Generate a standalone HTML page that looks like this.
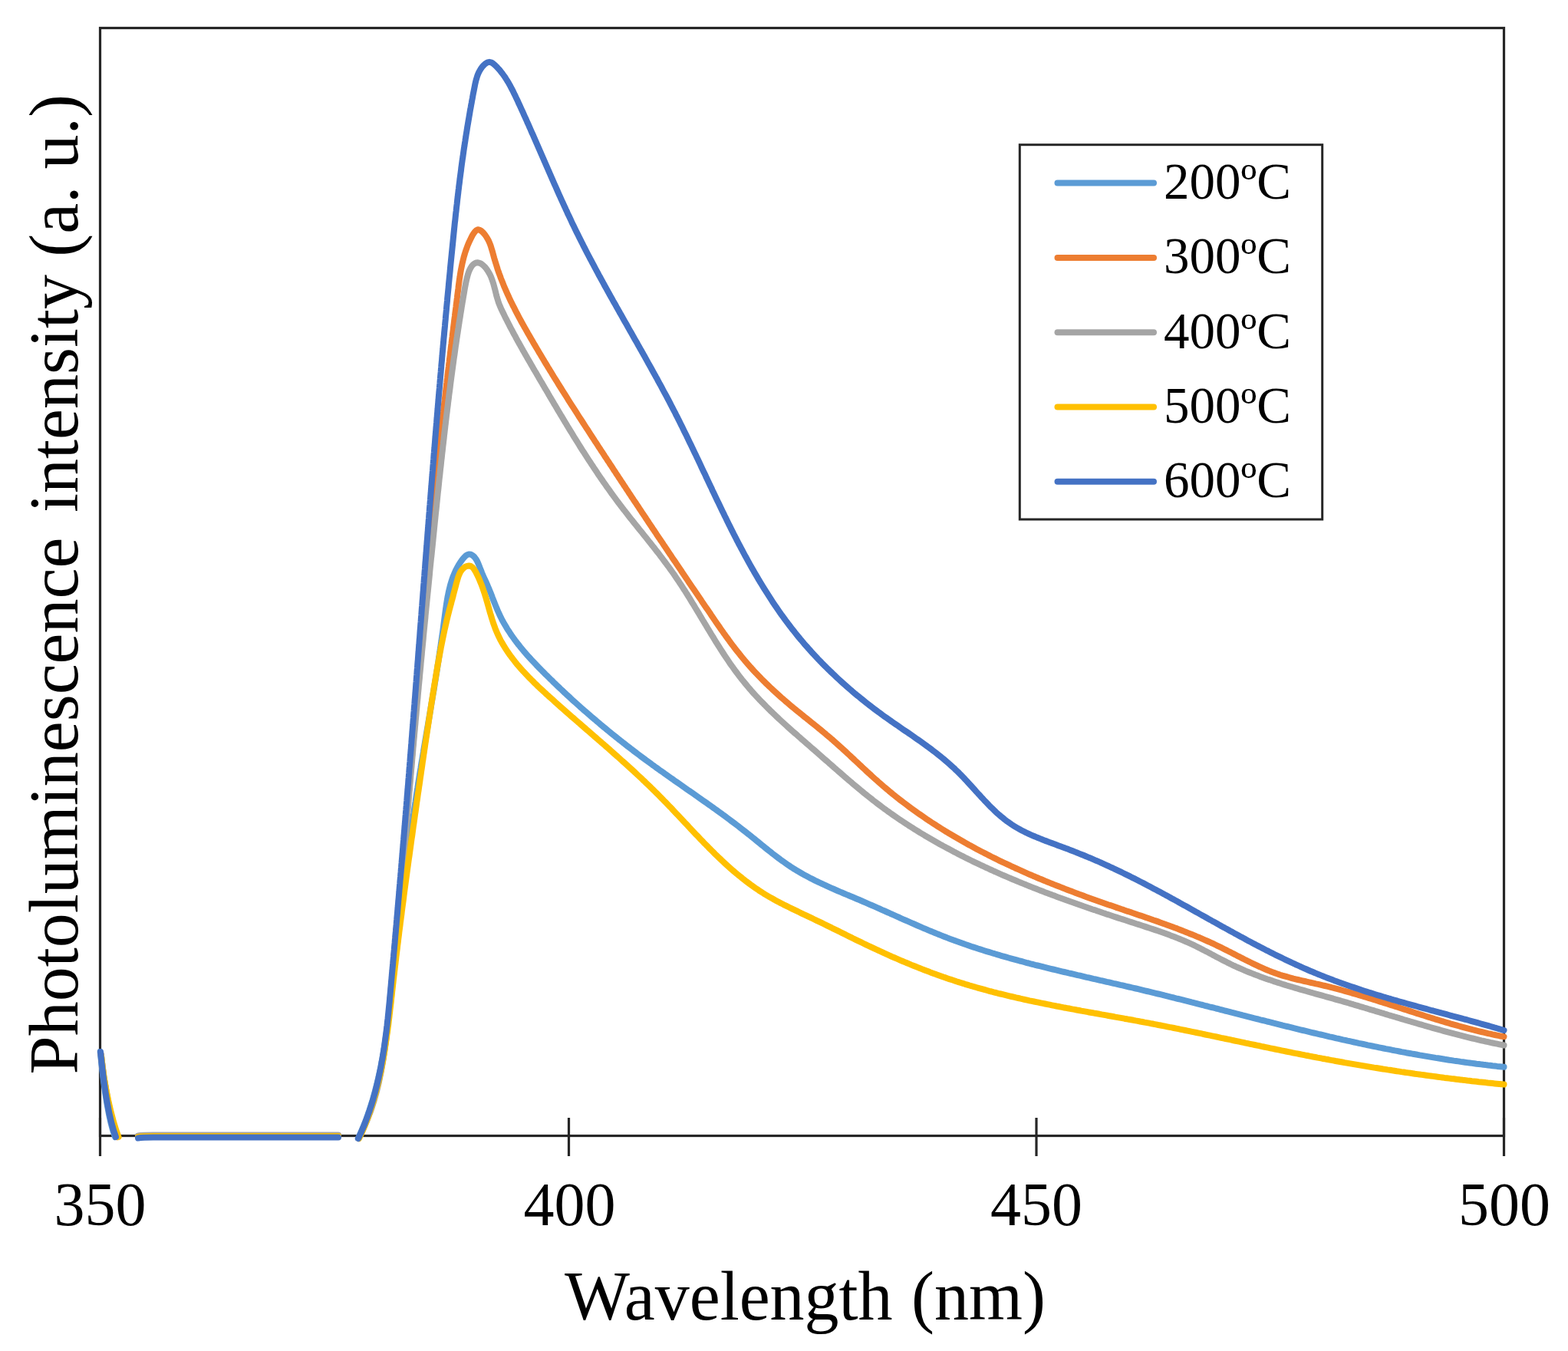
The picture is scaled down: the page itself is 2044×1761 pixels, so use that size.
<!DOCTYPE html>
<html><head><meta charset="utf-8"><title>Photoluminescence spectra</title>
<style>
html,body{margin:0;padding:0;background:#fff;}
body{width:2044px;height:1761px;overflow:hidden;}
svg{display:block;}
text{font-family:"Liberation Serif","Times New Roman",serif;fill:#000;}
</style></head><body>
<svg width="2044" height="1761" viewBox="0 0 2044 1761" xmlns="http://www.w3.org/2000/svg">
<rect width="2044" height="1761" fill="#fff"/>
<g stroke="#262626" stroke-width="3.2" fill="none">
<rect x="130.5" y="36.5" width="1830.0" height="1444.0"/>
<line x1="130.5" y1="1457" x2="130.5" y2="1507"/>
<line x1="741.5" y1="1457" x2="741.5" y2="1507"/>
<line x1="1351" y1="1457" x2="1351" y2="1507"/>
<line x1="1960.5" y1="1457" x2="1960.5" y2="1507"/>
</g>
<g fill="none" stroke-width="8.0" stroke-linejoin="round" stroke-linecap="round">
<path d="M130.7 1371 C134.7 1411 141.0 1458 150.0 1482 M180 1481.5 Q186 1480.5 200 1480.5 L441 1480.5 M466.8 1484.0L468.1 1481.3 469.3 1478.5 470.5 1475.8 471.7 1473.0 472.9 1470.2 474.0 1467.4 475.1 1464.7 476.2 1461.9 477.3 1459.1 478.3 1456.3 479.3 1453.5 480.3 1450.6 481.3 1447.8 482.2 1445.0 483.1 1442.2 484.0 1439.3 484.9 1436.5 485.8 1433.6 486.6 1430.8 487.4 1427.9 488.2 1425.0 489.0 1422.2 489.7 1419.3 490.5 1416.4 491.2 1413.5 491.9 1410.6 492.6 1407.7 493.3 1404.8 493.9 1401.9 494.6 1399.0 495.2 1396.1 495.8 1393.2 496.4 1390.3 497.0 1387.4 497.5 1384.4 498.1 1381.5 498.6 1378.6 499.1 1375.6 499.7 1372.7 500.2 1369.7 500.7 1366.8 501.1 1363.8 501.6 1360.9 502.1 1357.9 502.5 1355.0 502.9 1352.0 503.4 1349.0 503.8 1346.1 504.2 1343.1 504.6 1340.1 505.0 1337.1 505.4 1334.2 505.8 1331.2 506.2 1328.2 506.5 1325.2 506.9 1322.3 507.3 1319.3 507.6 1316.3 508.0 1313.3 508.3 1310.3 508.7 1307.3 509.0 1304.3 509.4 1301.3 509.7 1298.4 510.0 1295.4 510.4 1292.4 510.7 1289.4 511.1 1286.4 511.4 1283.4 511.7 1280.4 512.1 1277.4 512.4 1274.4 512.7 1271.4 513.1 1268.4 513.4 1265.4 513.8 1262.5 514.1 1259.5 514.4 1256.5 514.8 1253.5 515.1 1250.5 515.5 1247.5 515.8 1244.5 516.1 1241.5 516.5 1238.5 516.8 1235.5 517.2 1232.5 517.5 1229.6 517.9 1226.6 518.2 1223.6 518.6 1220.6 518.9 1217.6 519.3 1214.6 519.6 1211.6 520.0 1208.6 520.3 1205.6 520.7 1202.7 521.0 1199.7 521.4 1196.7 521.8 1193.7 522.1 1190.7 522.5 1187.7 522.8 1184.7 523.2 1181.8 523.6 1178.8 523.9 1175.8 524.3 1172.8 524.7 1169.8 525.0 1166.8 525.4 1163.9 525.8 1160.9 526.1 1157.9 526.5 1154.9 526.9 1151.9 527.3 1149.0 527.6 1146.0 528.0 1143.0 528.4 1140.0 528.8 1137.0 529.2 1134.1 529.6 1131.1 530.0 1128.1 530.3 1125.1 530.7 1122.2 531.1 1119.2 531.5 1116.2 531.9 1113.2 532.3 1110.3 532.7 1107.3 533.1 1104.3 533.5 1101.4 533.9 1098.4 534.3 1095.4 534.7 1092.5 535.1 1089.5 535.6 1086.5 536.0 1083.6 536.4 1080.6 536.8 1077.6 537.2 1074.7 537.7 1071.7 538.1 1068.8 538.5 1065.8 538.9 1062.8 539.4 1059.9 539.8 1056.9 540.2 1054.0 540.7 1051.0 541.1 1048.1 541.6 1045.1 542.0 1042.1 542.4 1039.2 542.9 1036.2 543.3 1033.3 543.8 1030.3 544.3 1027.4 544.7 1024.5 545.2 1021.5 545.6 1018.6 546.1 1015.6 546.6 1012.7 547.0 1009.7 547.5 1006.8 548.0 1003.9 548.5 1000.9 548.9 998.0 549.4 995.0 549.9 992.1 550.4 989.2 550.9 986.2 551.4 983.3 551.9 980.4 552.3 977.4 552.8 974.5 553.3 971.6 553.8 968.6 554.3 965.7 554.8 962.8 555.3 959.8 555.8 956.9 556.3 953.9 556.8 951.0 557.3 948.1 557.8 945.1 558.3 942.2 558.8 939.3 559.3 936.3 559.8 933.4 560.3 930.4 560.8 927.5 561.3 924.6 561.7 921.6 562.2 918.7 562.7 915.7 563.2 912.8 563.7 909.8 564.2 906.9 564.7 903.9 565.2 901.0 565.7 898.0 566.2 895.1 566.6 892.1 567.1 889.1 567.6 886.2 568.1 883.2 568.5 880.3 569.0 877.3 569.5 874.3 570.0 871.4 570.4 868.4 570.9 865.4 571.4 862.4 571.8 859.4 572.3 856.5 572.7 853.5 573.2 850.5 573.6 847.5 574.1 844.5 574.5 841.5 574.9 838.5 575.4 835.5 575.8 832.5 576.2 829.5 576.7 826.5 577.1 823.5 577.5 820.5 577.9 817.4 578.3 814.4 578.7 811.4 579.1 808.4 579.5 805.3 579.9 802.3 580.3 799.2 580.7 796.2 581.1 793.2 581.6 790.2 582.0 787.1 582.5 784.1 583.0 781.1 583.5 778.1 584.1 775.2 584.7 772.2 585.4 769.3 586.1 766.3 586.8 763.4 587.6 760.6 588.5 757.7 589.4 754.9 590.4 752.1 591.5 749.4 592.7 746.6 593.9 743.9 595.2 741.3 596.6 738.7 598.1 736.1 599.7 733.5 601.4 731.1 603.2 728.6 605.2 726.3 607.2 724.4 609.3 723.0 611.6 722.4 613.9 722.8 616.1 724.0 618.3 725.9 620.2 728.4 621.9 731.2 623.3 734.2 624.6 737.4 625.8 740.6 627.0 743.6 628.1 746.5 629.3 749.3 630.5 752.0 631.7 754.7 632.9 757.3 634.1 759.8 635.2 762.4 636.3 765.0 637.5 767.7 638.6 770.4 639.7 773.1 640.8 775.9 641.8 778.7 642.9 781.5 644.0 784.3 645.2 787.2 646.3 790.0 647.5 792.8 648.6 795.6 649.9 798.4 651.2 801.2 652.5 803.9 653.8 806.6 655.2 809.3 656.7 811.9 658.2 814.5 659.7 817.1 661.2 819.6 662.8 822.1 664.5 824.6 666.1 827.1 667.8 829.5 669.6 832.0 671.3 834.4 673.1 836.7 674.9 839.1 676.8 841.4 678.6 843.7 680.5 846.0 682.4 848.3 684.4 850.6 686.3 852.8 688.3 855.1 690.3 857.3 692.3 859.5 694.4 861.7 696.4 863.8 698.5 866.0 700.5 868.2 702.6 870.3 704.7 872.4 706.8 874.6 708.9 876.7 711.0 878.8 713.2 880.9 715.3 883.0 717.4 885.1 719.6 887.2 721.7 889.3 723.9 891.4 726.0 893.5 728.2 895.5 730.4 897.6 732.6 899.6 734.7 901.7 736.9 903.7 739.1 905.8 741.3 907.8 743.5 909.8 745.7 911.9 748.0 913.9 750.2 915.9 752.4 917.9 754.6 919.9 756.9 921.9 759.1 923.9 761.4 925.9 763.6 927.8 765.9 929.8 768.2 931.8 770.4 933.7 772.7 935.7 775.0 937.6 777.3 939.6 779.6 941.5 781.9 943.4 784.2 945.4 786.5 947.3 788.8 949.2 791.1 951.1 793.4 953.0 795.7 954.9 798.1 956.8 800.4 958.7 802.7 960.5 805.1 962.4 807.4 964.3 809.8 966.1 812.1 968.0 814.5 969.8 816.8 971.7 819.2 973.5 821.6 975.3 824.0 977.2 826.3 979.0 828.7 980.8 831.1 982.6 833.5 984.4 835.9 986.2 838.3 988.0 840.7 989.8 843.1 991.6 845.5 993.3 848.0 995.1 850.4 996.9 852.8 998.6 855.2 1000.4 857.7 1002.1 860.1 1003.9 862.5 1005.6 865.0 1007.3 867.4 1009.1 869.8 1010.8 872.3 1012.5 874.7 1014.2 877.2 1015.9 879.6 1017.7 882.1 1019.4 884.5 1021.1 887.0 1022.8 889.4 1024.5 891.9 1026.2 894.3 1027.9 896.8 1029.7 899.3 1031.4 901.7 1033.1 904.2 1034.8 906.6 1036.5 909.1 1038.2 911.5 1039.9 914.0 1041.7 916.4 1043.4 918.9 1045.1 921.3 1046.8 923.7 1048.6 926.2 1050.3 928.6 1052.0 931.0 1053.8 933.5 1055.5 935.9 1057.3 938.3 1059.0 940.8 1060.8 943.2 1062.6 945.6 1064.3 948.0 1066.1 950.4 1067.9 952.8 1069.7 955.2 1071.5 957.6 1073.3 960.0 1075.1 962.4 1076.9 964.8 1078.8 967.1 1080.6 969.5 1082.5 971.9 1084.3 974.2 1086.2 976.6 1088.0 978.9 1089.9 981.3 1091.8 983.6 1093.7 985.9 1095.6 988.3 1097.5 990.6 1099.4 992.9 1101.3 995.3 1103.2 997.6 1105.1 1000.0 1107.0 1002.3 1108.8 1004.7 1110.7 1007.0 1112.6 1009.4 1114.4 1011.8 1116.2 1014.1 1118.0 1016.5 1119.8 1018.9 1121.6 1021.4 1123.3 1023.8 1125.0 1026.2 1126.7 1028.7 1128.4 1031.2 1130.1 1033.7 1131.7 1036.2 1133.2 1038.7 1134.8 1041.3 1136.3 1043.8 1137.8 1046.4 1139.3 1049.0 1140.7 1051.6 1142.1 1054.3 1143.5 1056.9 1144.9 1059.5 1146.2 1062.2 1147.6 1064.9 1148.9 1067.6 1150.2 1070.3 1151.4 1073.0 1152.7 1075.7 1153.9 1078.4 1155.2 1081.1 1156.4 1083.8 1157.6 1086.6 1158.8 1089.3 1160.0 1092.1 1161.2 1094.8 1162.4 1097.6 1163.5 1100.4 1164.7 1103.1 1165.9 1105.9 1167.0 1108.7 1168.2 1111.4 1169.3 1114.2 1170.5 1117.0 1171.7 1119.7 1172.8 1122.5 1174.0 1125.3 1175.2 1128.0 1176.4 1130.8 1177.6 1133.5 1178.8 1136.3 1180.0 1139.0 1181.2 1141.8 1182.4 1144.5 1183.6 1147.3 1184.8 1150.0 1186.1 1152.8 1187.3 1155.5 1188.5 1158.3 1189.7 1161.0 1191.0 1163.7 1192.2 1166.5 1193.4 1169.2 1194.6 1172.0 1195.8 1174.7 1197.1 1177.4 1198.3 1180.2 1199.5 1182.9 1200.7 1185.7 1201.9 1188.4 1203.1 1191.2 1204.3 1193.9 1205.5 1196.7 1206.7 1199.4 1207.9 1202.2 1209.1 1204.9 1210.3 1207.7 1211.4 1210.4 1212.6 1213.2 1213.7 1216.0 1214.9 1218.7 1216.0 1221.5 1217.1 1224.3 1218.3 1227.1 1219.4 1229.8 1220.4 1232.6 1221.5 1235.4 1222.6 1238.2 1223.7 1241.0 1224.7 1243.8 1225.7 1246.6 1226.8 1249.4 1227.8 1252.2 1228.8 1255.0 1229.8 1257.8 1230.8 1260.7 1231.7 1263.5 1232.7 1266.3 1233.7 1269.1 1234.6 1272.0 1235.5 1274.8 1236.5 1277.7 1237.4 1280.5 1238.3 1283.3 1239.2 1286.2 1240.1 1289.0 1240.9 1291.9 1241.8 1294.8 1242.7 1297.6 1243.5 1300.5 1244.4 1303.3 1245.2 1306.2 1246.1 1309.1 1246.9 1311.9 1247.7 1314.8 1248.5 1317.7 1249.3 1320.6 1250.1 1323.5 1250.9 1326.3 1251.7 1329.2 1252.5 1332.1 1253.2 1335.0 1254.0 1337.9 1254.8 1340.8 1255.5 1343.7 1256.3 1346.6 1257.0 1349.5 1257.8 1352.4 1258.5 1355.3 1259.2 1358.2 1259.9 1361.1 1260.7 1364.0 1261.4 1366.9 1262.1 1369.8 1262.8 1372.7 1263.5 1375.6 1264.2 1378.5 1264.9 1381.4 1265.6 1384.3 1266.3 1387.3 1267.0 1390.2 1267.7 1393.1 1268.4 1396.0 1269.0 1398.9 1269.7 1401.8 1270.4 1404.8 1271.1 1407.7 1271.7 1410.6 1272.4 1413.5 1273.1 1416.4 1273.8 1419.4 1274.4 1422.3 1275.1 1425.2 1275.8 1428.1 1276.4 1431.0 1277.1 1434.0 1277.8 1436.9 1278.4 1439.8 1279.1 1442.7 1279.8 1445.7 1280.4 1448.6 1281.1 1451.5 1281.8 1454.4 1282.4 1457.3 1283.1 1460.3 1283.8 1463.2 1284.4 1466.1 1285.1 1469.0 1285.8 1471.9 1286.5 1474.8 1287.2 1477.8 1287.8 1480.7 1288.5 1483.6 1289.2 1486.5 1289.9 1489.4 1290.6 1492.3 1291.3 1495.2 1292.0 1498.1 1292.7 1501.0 1293.4 1504.0 1294.1 1506.9 1294.8 1509.8 1295.5 1512.7 1296.2 1515.6 1296.9 1518.5 1297.7 1521.4 1298.4 1524.3 1299.1 1527.2 1299.8 1530.1 1300.5 1533.0 1301.3 1535.9 1302.0 1538.8 1302.7 1541.7 1303.4 1544.6 1304.2 1547.5 1304.9 1550.4 1305.6 1553.3 1306.4 1556.2 1307.1 1559.1 1307.8 1562.0 1308.6 1564.9 1309.3 1567.8 1310.0 1570.7 1310.8 1573.6 1311.5 1576.5 1312.3 1579.4 1313.0 1582.3 1313.7 1585.2 1314.5 1588.1 1315.2 1590.9 1316.0 1593.8 1316.7 1596.7 1317.5 1599.6 1318.2 1602.5 1318.9 1605.4 1319.7 1608.3 1320.4 1611.2 1321.2 1614.1 1321.9 1617.0 1322.6 1619.9 1323.4 1622.8 1324.1 1625.7 1324.9 1628.6 1325.6 1631.5 1326.3 1634.4 1327.1 1637.3 1327.8 1640.2 1328.5 1643.1 1329.3 1646.0 1330.0 1648.9 1330.7 1651.8 1331.5 1654.7 1332.2 1657.6 1332.9 1660.5 1333.7 1663.4 1334.4 1666.3 1335.1 1669.2 1335.8 1672.1 1336.6 1675.0 1337.3 1677.9 1338.0 1680.8 1338.7 1683.7 1339.4 1686.6 1340.2 1689.5 1340.9 1692.4 1341.6 1695.3 1342.3 1698.2 1343.0 1701.2 1343.7 1704.1 1344.4 1707.0 1345.1 1709.9 1345.8 1712.8 1346.5 1715.7 1347.2 1718.6 1347.9 1721.5 1348.5 1724.5 1349.2 1727.4 1349.9 1730.3 1350.6 1733.2 1351.3 1736.1 1351.9 1739.1 1352.6 1742.0 1353.3 1744.9 1353.9 1747.8 1354.6 1750.8 1355.3 1753.7 1355.9 1756.6 1356.6 1759.5 1357.2 1762.5 1357.8 1765.4 1358.5 1768.3 1359.1 1771.3 1359.8 1774.2 1360.4 1777.1 1361.0 1780.1 1361.6 1783.0 1362.3 1785.9 1362.9 1788.9 1363.5 1791.8 1364.1 1794.7 1364.7 1797.7 1365.3 1800.6 1365.9 1803.6 1366.5 1806.5 1367.1 1809.5 1367.6 1812.4 1368.2 1815.3 1368.8 1818.3 1369.4 1821.2 1369.9 1824.2 1370.5 1827.1 1371.1 1830.1 1371.6 1833.0 1372.2 1836.0 1372.7 1838.9 1373.2 1841.9 1373.8 1844.8 1374.3 1847.8 1374.8 1850.7 1375.4 1853.7 1375.9 1856.6 1376.4 1859.6 1376.9 1862.6 1377.4 1865.5 1377.9 1868.5 1378.4 1871.4 1378.9 1874.4 1379.3 1877.4 1379.8 1880.3 1380.3 1883.3 1380.8 1886.2 1381.2 1889.2 1381.7 1892.2 1382.1 1895.1 1382.6 1898.1 1383.0 1901.1 1383.4 1904.0 1383.9 1907.0 1384.3 1910.0 1384.7 1912.9 1385.1 1915.9 1385.5 1918.9 1385.9 1921.8 1386.3 1924.8 1386.7 1927.8 1387.0 1930.8 1387.4 1933.7 1387.8 1936.7 1388.1 1939.7 1388.5 1942.6 1388.8 1945.6 1389.2 1948.6 1389.5 1951.6 1389.9 1954.5 1390.2 1957.5 1390.5 1960.5 1390.8" stroke="#5B9BD5"/>
<path d="M131.6 1374 C135.6 1414 144.0 1458 153.0 1482 M180 1481 Q186 1480 200 1480 L441 1480 M467.5 1484.0L468.8 1481.3 470.1 1478.6 471.4 1475.8 472.7 1473.1 473.9 1470.3 475.1 1467.6 476.2 1464.8 477.3 1462.0 478.4 1459.3 479.5 1456.5 480.5 1453.7 481.5 1450.9 482.5 1448.0 483.5 1445.2 484.4 1442.4 485.3 1439.6 486.2 1436.7 487.1 1433.9 487.9 1431.0 488.8 1428.2 489.6 1425.3 490.3 1422.4 491.1 1419.5 491.8 1416.7 492.5 1413.8 493.2 1410.9 493.9 1408.0 494.5 1405.1 495.1 1402.2 495.8 1399.2 496.4 1396.3 496.9 1393.4 497.5 1390.5 498.0 1387.5 498.6 1384.6 499.1 1381.6 499.6 1378.7 500.1 1375.7 500.5 1372.8 501.0 1369.8 501.4 1366.9 501.8 1363.9 502.3 1360.9 502.7 1358.0 503.1 1355.0 503.4 1352.0 503.8 1349.0 504.2 1346.1 504.5 1343.1 504.9 1340.1 505.2 1337.1 505.5 1334.1 505.9 1331.1 506.2 1328.1 506.5 1325.1 506.8 1322.1 507.1 1319.1 507.4 1316.1 507.6 1313.1 507.9 1310.1 508.2 1307.1 508.5 1304.1 508.7 1301.1 509.0 1298.1 509.3 1295.1 509.5 1292.1 509.8 1289.1 510.1 1286.1 510.3 1283.1 510.6 1280.1 510.9 1277.1 511.1 1274.1 511.4 1271.1 511.6 1268.1 511.9 1265.1 512.2 1262.1 512.4 1259.2 512.7 1256.2 513.0 1253.2 513.2 1250.2 513.5 1247.2 513.8 1244.2 514.0 1241.2 514.3 1238.2 514.6 1235.2 514.9 1232.2 515.1 1229.2 515.4 1226.2 515.7 1223.3 515.9 1220.3 516.2 1217.3 516.5 1214.3 516.7 1211.3 517.0 1208.3 517.3 1205.3 517.6 1202.3 517.8 1199.4 518.1 1196.4 518.4 1193.4 518.6 1190.4 518.9 1187.4 519.2 1184.4 519.5 1181.4 519.7 1178.5 520.0 1175.5 520.3 1172.5 520.5 1169.5 520.8 1166.5 521.1 1163.5 521.4 1160.6 521.6 1157.6 521.9 1154.6 522.2 1151.6 522.4 1148.6 522.7 1145.7 523.0 1142.7 523.3 1139.7 523.5 1136.7 523.8 1133.7 524.1 1130.8 524.3 1127.8 524.6 1124.8 524.9 1121.8 525.2 1118.8 525.4 1115.9 525.7 1112.9 526.0 1109.9 526.2 1106.9 526.5 1103.9 526.8 1101.0 527.1 1098.0 527.3 1095.0 527.6 1092.0 527.9 1089.0 528.1 1086.1 528.4 1083.1 528.7 1080.1 528.9 1077.1 529.2 1074.2 529.5 1071.2 529.7 1068.2 530.0 1065.2 530.3 1062.2 530.6 1059.3 530.8 1056.3 531.1 1053.3 531.4 1050.3 531.6 1047.3 531.9 1044.4 532.1 1041.4 532.4 1038.4 532.7 1035.4 532.9 1032.4 533.2 1029.5 533.5 1026.5 533.7 1023.5 534.0 1020.5 534.3 1017.5 534.5 1014.6 534.8 1011.6 535.0 1008.6 535.3 1005.6 535.6 1002.6 535.8 999.6 536.1 996.7 536.3 993.7 536.6 990.7 536.9 987.7 537.1 984.7 537.4 981.7 537.6 978.7 537.9 975.8 538.1 972.8 538.4 969.8 538.6 966.8 538.9 963.8 539.1 960.8 539.4 957.8 539.7 954.9 539.9 951.9 540.2 948.9 540.4 945.9 540.7 942.9 540.9 939.9 541.1 936.9 541.4 933.9 541.6 930.9 541.9 927.9 542.1 925.0 542.4 922.0 542.6 919.0 542.9 916.0 543.1 913.0 543.4 910.0 543.6 907.0 543.9 904.0 544.1 901.0 544.4 898.0 544.6 895.0 544.8 892.0 545.1 889.0 545.3 886.0 545.6 883.1 545.8 880.1 546.1 877.1 546.3 874.1 546.6 871.1 546.8 868.1 547.0 865.1 547.3 862.1 547.5 859.1 547.8 856.1 548.0 853.1 548.3 850.1 548.5 847.1 548.8 844.1 549.0 841.1 549.2 838.1 549.5 835.1 549.7 832.1 550.0 829.1 550.2 826.2 550.5 823.2 550.7 820.2 551.0 817.2 551.2 814.2 551.5 811.2 551.7 808.2 552.0 805.2 552.2 802.2 552.5 799.2 552.7 796.2 553.0 793.2 553.2 790.2 553.5 787.2 553.7 784.2 554.0 781.2 554.2 778.2 554.5 775.3 554.7 772.3 555.0 769.3 555.2 766.3 555.5 763.3 555.7 760.3 556.0 757.3 556.2 754.3 556.5 751.3 556.8 748.3 557.0 745.3 557.3 742.3 557.5 739.4 557.8 736.4 558.1 733.4 558.3 730.4 558.6 727.4 558.9 724.4 559.1 721.4 559.4 718.4 559.7 715.4 559.9 712.5 560.2 709.5 560.5 706.5 560.7 703.5 561.0 700.5 561.3 697.5 561.6 694.5 561.8 691.6 562.1 688.6 562.4 685.6 562.7 682.6 562.9 679.6 563.2 676.6 563.5 673.7 563.8 670.7 564.1 667.7 564.4 664.7 564.6 661.7 564.9 658.8 565.2 655.8 565.5 652.8 565.8 649.8 566.1 646.8 566.4 643.9 566.7 640.9 567.0 637.9 567.3 634.9 567.6 632.0 567.9 629.0 568.2 626.0 568.5 623.1 568.8 620.1 569.1 617.1 569.4 614.1 569.7 611.2 570.0 608.2 570.3 605.2 570.7 602.3 571.0 599.3 571.3 596.3 571.6 593.4 571.9 590.4 572.2 587.4 572.6 584.5 572.9 581.5 573.2 578.5 573.5 575.6 573.9 572.6 574.2 569.6 574.5 566.7 574.9 563.7 575.2 560.7 575.5 557.8 575.8 554.8 576.2 551.9 576.5 548.9 576.9 545.9 577.2 543.0 577.5 540.0 577.9 537.0 578.2 534.1 578.6 531.1 578.9 528.1 579.2 525.2 579.6 522.2 579.9 519.2 580.3 516.3 580.6 513.3 581.0 510.3 581.3 507.4 581.7 504.4 582.0 501.4 582.4 498.5 582.7 495.5 583.1 492.5 583.4 489.6 583.8 486.6 584.1 483.6 584.5 480.7 584.9 477.7 585.2 474.7 585.6 471.7 585.9 468.8 586.3 465.8 586.7 462.8 587.0 459.9 587.4 456.9 587.7 453.9 588.1 450.9 588.5 448.0 588.8 445.0 589.2 442.0 589.6 439.0 589.9 436.0 590.3 433.1 590.7 430.1 591.0 427.1 591.4 424.1 591.8 421.1 592.1 418.1 592.5 415.1 592.9 412.2 593.2 409.2 593.6 406.2 594.0 403.2 594.4 400.2 594.7 397.2 595.1 394.2 595.5 391.2 595.9 388.2 596.2 385.2 596.6 382.2 597.0 379.2 597.4 376.2 597.7 373.2 598.1 370.2 598.5 367.2 598.9 364.2 599.4 361.2 599.8 358.2 600.3 355.3 600.8 352.3 601.4 349.3 602.0 346.4 602.6 343.4 603.3 340.5 604.0 337.6 604.7 334.7 605.6 331.8 606.4 329.0 607.4 326.1 608.4 323.3 609.4 320.5 610.6 317.7 611.8 314.9 613.1 312.2 614.5 309.4 615.9 306.7 617.5 304.1 619.2 301.8 621.0 300.1 623.0 299.3 625.1 299.6 627.4 301.0 629.6 303.0 631.7 305.4 633.6 308.0 635.2 310.6 636.7 313.3 638.0 316.1 639.1 318.9 640.1 321.8 641.0 324.8 641.9 327.7 642.7 330.7 643.5 333.7 644.3 336.6 645.2 339.6 646.1 342.5 647.0 345.4 647.9 348.3 648.8 351.2 649.8 354.1 650.8 356.9 651.9 359.7 652.9 362.6 654.0 365.4 655.1 368.1 656.2 370.9 657.3 373.7 658.5 376.4 659.7 379.2 660.9 381.9 662.1 384.6 663.4 387.3 664.6 390.0 665.9 392.7 667.2 395.3 668.5 398.0 669.9 400.6 671.2 403.3 672.5 405.9 673.9 408.5 675.3 411.2 676.7 413.8 678.1 416.4 679.5 419.0 680.9 421.6 682.4 424.2 683.8 426.8 685.3 429.3 686.8 431.9 688.2 434.5 689.7 437.1 691.2 439.6 692.7 442.2 694.2 444.8 695.7 447.4 697.2 449.9 698.7 452.5 700.2 455.0 701.7 457.6 703.2 460.2 704.8 462.7 706.3 465.3 707.8 467.8 709.4 470.4 710.9 473.0 712.5 475.5 714.0 478.1 715.6 480.6 717.1 483.2 718.7 485.7 720.3 488.3 721.8 490.8 723.4 493.3 725.0 495.9 726.6 498.4 728.1 501.0 729.7 503.5 731.3 506.0 732.9 508.6 734.5 511.1 736.1 513.7 737.7 516.2 739.3 518.7 740.9 521.3 742.5 523.8 744.1 526.3 745.7 528.8 747.4 531.4 749.0 533.9 750.6 536.4 752.2 538.9 753.8 541.5 755.4 544.0 757.1 546.5 758.7 549.0 760.3 551.5 762.0 554.1 763.6 556.6 765.2 559.1 766.9 561.6 768.5 564.1 770.1 566.6 771.8 569.2 773.4 571.7 775.0 574.2 776.7 576.7 778.3 579.2 779.9 581.7 781.6 584.2 783.2 586.7 784.9 589.2 786.5 591.7 788.1 594.2 789.8 596.7 791.4 599.2 793.1 601.7 794.7 604.2 796.4 606.7 798.0 609.2 799.6 611.7 801.3 614.2 802.9 616.7 804.6 619.2 806.2 621.7 807.9 624.2 809.5 626.7 811.2 629.2 812.8 631.7 814.5 634.2 816.1 636.7 817.8 639.2 819.4 641.7 821.1 644.2 822.7 646.7 824.4 649.2 826.0 651.7 827.7 654.1 829.4 656.6 831.0 659.1 832.7 661.6 834.3 664.1 836.0 666.6 837.6 669.1 839.3 671.6 841.0 674.0 842.6 676.5 844.3 679.0 845.9 681.5 847.6 684.0 849.3 686.5 850.9 689.0 852.6 691.4 854.3 693.9 855.9 696.4 857.6 698.9 859.3 701.4 860.9 703.9 862.6 706.3 864.3 708.8 865.9 711.3 867.6 713.8 869.3 716.3 870.9 718.7 872.6 721.2 874.3 723.7 875.9 726.2 877.6 728.7 879.3 731.1 881.0 733.6 882.6 736.1 884.3 738.6 886.0 741.1 887.7 743.5 889.3 746.0 891.0 748.5 892.7 751.0 894.4 753.5 896.0 755.9 897.7 758.4 899.4 760.9 901.1 763.4 902.8 765.9 904.4 768.3 906.1 770.8 907.8 773.3 909.5 775.8 911.2 778.3 912.9 780.7 914.5 783.2 916.2 785.7 917.9 788.2 919.6 790.7 921.3 793.1 923.0 795.6 924.7 798.1 926.4 800.6 928.0 803.1 929.7 805.6 931.4 808.0 933.1 810.5 934.8 813.0 936.5 815.4 938.3 817.9 940.0 820.4 941.7 822.8 943.4 825.3 945.2 827.7 946.9 830.1 948.7 832.5 950.5 835.0 952.2 837.4 954.0 839.8 955.8 842.1 957.6 844.5 959.5 846.9 961.3 849.2 963.2 851.6 965.0 853.9 966.9 856.2 968.8 858.5 970.7 860.8 972.7 863.1 974.6 865.3 976.6 867.6 978.5 869.8 980.5 872.0 982.5 874.2 984.6 876.4 986.6 878.5 988.7 880.7 990.7 882.8 992.8 885.0 994.9 887.1 997.0 889.2 999.1 891.3 1001.3 893.3 1003.4 895.4 1005.6 897.4 1007.8 899.5 1010.0 901.5 1012.2 903.5 1014.4 905.5 1016.6 907.5 1018.8 909.5 1021.1 911.4 1023.3 913.4 1025.6 915.3 1027.9 917.3 1030.1 919.2 1032.4 921.1 1034.7 923.0 1037.0 924.9 1039.4 926.8 1041.7 928.7 1044.0 930.5 1046.3 932.4 1048.6 934.3 1051.0 936.2 1053.3 938.0 1055.6 939.9 1058.0 941.8 1060.3 943.6 1062.6 945.5 1065.0 947.4 1067.3 949.3 1069.6 951.2 1071.9 953.1 1074.2 955.0 1076.5 956.9 1078.8 958.9 1081.1 960.8 1083.4 962.8 1085.7 964.7 1087.9 966.7 1090.2 968.7 1092.4 970.7 1094.6 972.7 1096.9 974.7 1099.1 976.8 1101.3 978.8 1103.5 980.8 1105.7 982.9 1107.9 984.9 1110.1 987.0 1112.3 989.0 1114.5 991.1 1116.7 993.1 1118.9 995.2 1121.1 997.3 1123.3 999.3 1125.5 1001.4 1127.7 1003.4 1129.9 1005.5 1132.1 1007.5 1134.4 1009.5 1136.6 1011.6 1138.8 1013.6 1141.0 1015.6 1143.3 1017.6 1145.5 1019.6 1147.8 1021.6 1150.0 1023.5 1152.3 1025.5 1154.6 1027.4 1156.9 1029.3 1159.2 1031.3 1161.5 1033.2 1163.8 1035.1 1166.1 1036.9 1168.5 1038.8 1170.8 1040.7 1173.1 1042.5 1175.5 1044.3 1177.9 1046.1 1180.3 1047.9 1182.6 1049.7 1185.0 1051.5 1187.4 1053.3 1189.8 1055.0 1192.3 1056.8 1194.7 1058.5 1197.1 1060.2 1199.6 1061.9 1202.0 1063.6 1204.5 1065.3 1206.9 1067.0 1209.4 1068.7 1211.9 1070.3 1214.4 1072.0 1216.9 1073.6 1219.4 1075.2 1221.9 1076.8 1224.4 1078.4 1226.9 1080.0 1229.5 1081.6 1232.0 1083.2 1234.6 1084.7 1237.1 1086.3 1239.7 1087.8 1242.2 1089.3 1244.8 1090.8 1247.4 1092.3 1250.0 1093.8 1252.6 1095.3 1255.2 1096.8 1257.8 1098.3 1260.4 1099.7 1263.0 1101.2 1265.6 1102.6 1268.2 1104.0 1270.9 1105.5 1273.5 1106.9 1276.1 1108.3 1278.8 1109.7 1281.4 1111.0 1284.1 1112.4 1286.8 1113.8 1289.4 1115.1 1292.1 1116.5 1294.8 1117.8 1297.5 1119.1 1300.2 1120.5 1302.8 1121.8 1305.5 1123.1 1308.2 1124.4 1311.0 1125.6 1313.7 1126.9 1316.4 1128.2 1319.1 1129.5 1321.8 1130.7 1324.6 1132.0 1327.3 1133.2 1330.0 1134.4 1332.8 1135.7 1335.5 1136.9 1338.3 1138.1 1341.0 1139.3 1343.8 1140.5 1346.5 1141.7 1349.3 1142.8 1352.0 1144.0 1354.8 1145.2 1357.6 1146.3 1360.4 1147.5 1363.1 1148.6 1365.9 1149.8 1368.7 1150.9 1371.5 1152.0 1374.3 1153.1 1377.1 1154.2 1379.9 1155.3 1382.7 1156.4 1385.5 1157.5 1388.3 1158.6 1391.1 1159.7 1393.9 1160.8 1396.7 1161.8 1399.5 1162.9 1402.3 1164.0 1405.1 1165.0 1407.9 1166.1 1410.7 1167.1 1413.6 1168.1 1416.4 1169.2 1419.2 1170.2 1422.0 1171.2 1424.8 1172.2 1427.7 1173.2 1430.5 1174.2 1433.3 1175.2 1436.2 1176.2 1439.0 1177.2 1441.8 1178.2 1444.6 1179.2 1447.5 1180.1 1450.3 1181.1 1453.1 1182.1 1456.0 1183.1 1458.8 1184.0 1461.6 1185.0 1464.5 1185.9 1467.3 1186.9 1470.1 1187.9 1473.0 1188.8 1475.8 1189.8 1478.6 1190.7 1481.4 1191.7 1484.3 1192.7 1487.1 1193.6 1489.9 1194.6 1492.7 1195.6 1495.6 1196.5 1498.4 1197.5 1501.2 1198.5 1504.0 1199.5 1506.8 1200.4 1509.7 1201.4 1512.5 1202.4 1515.3 1203.4 1518.1 1204.4 1520.9 1205.5 1523.7 1206.5 1526.5 1207.5 1529.3 1208.5 1532.1 1209.6 1534.9 1210.6 1537.7 1211.7 1540.4 1212.8 1543.2 1213.9 1546.0 1215.0 1548.8 1216.1 1551.5 1217.2 1554.3 1218.3 1557.1 1219.4 1559.8 1220.6 1562.6 1221.7 1565.3 1222.9 1568.1 1224.1 1570.8 1225.3 1573.5 1226.5 1576.3 1227.7 1579.0 1229.0 1581.7 1230.2 1584.4 1231.5 1587.1 1232.8 1589.9 1234.1 1592.6 1235.4 1595.2 1236.8 1597.9 1238.1 1600.6 1239.5 1603.3 1240.8 1606.0 1242.2 1608.7 1243.6 1611.4 1245.0 1614.0 1246.4 1616.7 1247.7 1619.4 1249.1 1622.1 1250.5 1624.8 1251.8 1627.5 1253.2 1630.2 1254.5 1632.9 1255.8 1635.6 1257.1 1638.3 1258.4 1641.0 1259.7 1643.8 1260.9 1646.5 1262.1 1649.2 1263.3 1652.0 1264.5 1654.8 1265.6 1657.6 1266.7 1660.4 1267.7 1663.2 1268.8 1666.0 1269.7 1668.8 1270.7 1671.7 1271.6 1674.5 1272.4 1677.4 1273.2 1680.3 1274.0 1683.2 1274.8 1686.1 1275.6 1689.0 1276.3 1691.9 1277.0 1694.8 1277.7 1697.8 1278.3 1700.7 1279.0 1703.6 1279.7 1706.6 1280.3 1709.5 1281.0 1712.4 1281.6 1715.4 1282.3 1718.3 1282.9 1721.2 1283.6 1724.2 1284.3 1727.1 1285.0 1730.0 1285.7 1732.9 1286.4 1735.8 1287.2 1738.7 1287.9 1741.6 1288.7 1744.5 1289.4 1747.4 1290.2 1750.3 1291.0 1753.2 1291.8 1756.1 1292.6 1759.0 1293.4 1761.9 1294.3 1764.7 1295.1 1767.6 1295.9 1770.5 1296.8 1773.4 1297.6 1776.2 1298.5 1779.1 1299.4 1782.0 1300.2 1784.8 1301.1 1787.7 1302.0 1790.6 1302.9 1793.4 1303.8 1796.3 1304.7 1799.1 1305.6 1802.0 1306.5 1804.8 1307.4 1807.7 1308.3 1810.6 1309.2 1813.4 1310.1 1816.3 1311.0 1819.1 1311.9 1822.0 1312.8 1824.8 1313.8 1827.7 1314.7 1830.5 1315.6 1833.4 1316.5 1836.2 1317.4 1839.1 1318.4 1841.9 1319.3 1844.8 1320.2 1847.6 1321.1 1850.5 1322.0 1853.3 1322.9 1856.2 1323.8 1859.0 1324.7 1861.9 1325.6 1864.8 1326.5 1867.6 1327.4 1870.5 1328.3 1873.3 1329.1 1876.2 1330.0 1879.1 1330.9 1881.9 1331.7 1884.8 1332.6 1887.7 1333.4 1890.6 1334.3 1893.4 1335.1 1896.3 1335.9 1899.2 1336.7 1902.1 1337.5 1905.0 1338.3 1907.9 1339.1 1910.8 1339.9 1913.7 1340.7 1916.6 1341.4 1919.5 1342.2 1922.4 1342.9 1925.3 1343.6 1928.2 1344.3 1931.1 1345.0 1934.0 1345.7 1936.9 1346.4 1939.9 1347.1 1942.8 1347.7 1945.7 1348.4 1948.7 1349.0 1951.6 1349.6 1954.6 1350.2 1957.5 1350.7 1960.5 1351.3" stroke="#ED7D31"/>
<path d="M131.8 1375 C135.8 1415 144.5 1458 153.5 1482 M180 1480.5 Q186 1479.5 200 1479.5 L441 1479.5 M467.5 1483.5L468.9 1480.8 470.3 1478.1 471.7 1475.4 473.0 1472.7 474.3 1470.0 475.5 1467.3 476.7 1464.5 477.9 1461.8 479.0 1459.0 480.1 1456.2 481.2 1453.4 482.3 1450.6 483.3 1447.8 484.3 1445.0 485.2 1442.2 486.1 1439.4 487.0 1436.5 487.9 1433.7 488.7 1430.8 489.5 1428.0 490.3 1425.1 491.1 1422.2 491.8 1419.3 492.5 1416.5 493.2 1413.6 493.9 1410.7 494.5 1407.7 495.1 1404.8 495.7 1401.9 496.3 1399.0 496.9 1396.1 497.4 1393.1 498.0 1390.2 498.5 1387.2 499.0 1384.3 499.5 1381.3 499.9 1378.4 500.4 1375.4 500.8 1372.5 501.3 1369.5 501.7 1366.5 502.1 1363.5 502.5 1360.6 502.9 1357.6 503.3 1354.6 503.6 1351.6 504.0 1348.6 504.4 1345.7 504.7 1342.7 505.0 1339.7 505.4 1336.7 505.7 1333.7 506.1 1330.7 506.4 1327.7 506.7 1324.7 507.0 1321.7 507.4 1318.8 507.7 1315.8 508.0 1312.8 508.3 1309.8 508.6 1306.8 509.0 1303.8 509.3 1300.8 509.6 1297.8 509.9 1294.8 510.2 1291.8 510.5 1288.9 510.8 1285.9 511.1 1282.9 511.4 1279.9 511.7 1276.9 512.0 1273.9 512.3 1270.9 512.6 1267.9 512.9 1264.9 513.2 1262.0 513.5 1259.0 513.8 1256.0 514.1 1253.0 514.4 1250.0 514.7 1247.0 515.0 1244.0 515.3 1241.0 515.6 1238.0 515.8 1235.1 516.1 1232.1 516.4 1229.1 516.7 1226.1 517.0 1223.1 517.2 1220.1 517.5 1217.1 517.8 1214.1 518.1 1211.2 518.4 1208.2 518.6 1205.2 518.9 1202.2 519.2 1199.2 519.4 1196.2 519.7 1193.2 520.0 1190.2 520.3 1187.3 520.5 1184.3 520.8 1181.3 521.1 1178.3 521.3 1175.3 521.6 1172.3 521.9 1169.3 522.1 1166.3 522.4 1163.4 522.6 1160.4 522.9 1157.4 523.2 1154.4 523.4 1151.4 523.7 1148.4 524.0 1145.4 524.2 1142.5 524.5 1139.5 524.7 1136.5 525.0 1133.5 525.2 1130.5 525.5 1127.5 525.8 1124.5 526.0 1121.6 526.3 1118.6 526.5 1115.6 526.8 1112.6 527.0 1109.6 527.3 1106.6 527.5 1103.6 527.8 1100.7 528.1 1097.7 528.3 1094.7 528.6 1091.7 528.8 1088.7 529.1 1085.7 529.3 1082.7 529.6 1079.8 529.8 1076.8 530.1 1073.8 530.3 1070.8 530.6 1067.8 530.8 1064.8 531.1 1061.8 531.3 1058.9 531.6 1055.9 531.9 1052.9 532.1 1049.9 532.4 1046.9 532.6 1043.9 532.9 1040.9 533.1 1038.0 533.4 1035.0 533.6 1032.0 533.9 1029.0 534.1 1026.0 534.4 1023.0 534.7 1020.1 534.9 1017.1 535.2 1014.1 535.4 1011.1 535.7 1008.1 535.9 1005.1 536.2 1002.2 536.5 999.2 536.7 996.2 537.0 993.2 537.2 990.2 537.5 987.2 537.8 984.2 538.0 981.3 538.3 978.3 538.5 975.3 538.8 972.3 539.1 969.3 539.3 966.3 539.6 963.4 539.9 960.4 540.1 957.4 540.4 954.4 540.7 951.4 540.9 948.4 541.2 945.5 541.5 942.5 541.7 939.5 542.0 936.5 542.3 933.5 542.6 930.5 542.8 927.6 543.1 924.6 543.4 921.6 543.6 918.6 543.9 915.6 544.2 912.6 544.5 909.7 544.7 906.7 545.0 903.7 545.3 900.7 545.6 897.7 545.8 894.7 546.1 891.8 546.4 888.8 546.7 885.8 547.0 882.8 547.2 879.8 547.5 876.8 547.8 873.9 548.1 870.9 548.4 867.9 548.6 864.9 548.9 861.9 549.2 858.9 549.5 856.0 549.8 853.0 550.0 850.0 550.3 847.0 550.6 844.0 550.9 841.1 551.2 838.1 551.5 835.1 551.8 832.1 552.0 829.1 552.3 826.1 552.6 823.2 552.9 820.2 553.2 817.2 553.5 814.2 553.8 811.2 554.1 808.2 554.4 805.3 554.6 802.3 554.9 799.3 555.2 796.3 555.5 793.3 555.8 790.3 556.1 787.4 556.4 784.4 556.7 781.4 557.0 778.4 557.3 775.4 557.6 772.4 557.9 769.5 558.2 766.5 558.5 763.5 558.8 760.5 559.1 757.5 559.4 754.5 559.7 751.6 560.0 748.6 560.2 745.6 560.5 742.6 560.8 739.6 561.1 736.6 561.4 733.7 561.7 730.7 562.0 727.7 562.4 724.7 562.7 721.7 563.0 718.7 563.3 715.7 563.6 712.8 563.9 709.8 564.2 706.8 564.5 703.8 564.8 700.8 565.1 697.8 565.4 694.9 565.7 691.9 566.0 688.9 566.3 685.9 566.6 682.9 566.9 679.9 567.2 677.0 567.5 674.0 567.8 671.0 568.1 668.0 568.5 665.0 568.8 662.0 569.1 659.0 569.4 656.1 569.7 653.1 570.0 650.1 570.3 647.1 570.6 644.1 570.9 641.1 571.3 638.2 571.6 635.2 571.9 632.2 572.2 629.2 572.5 626.2 572.8 623.2 573.2 620.2 573.5 617.3 573.8 614.3 574.1 611.3 574.5 608.3 574.8 605.3 575.1 602.4 575.4 599.4 575.8 596.4 576.1 593.4 576.4 590.4 576.8 587.4 577.1 584.5 577.4 581.5 577.8 578.5 578.1 575.5 578.5 572.5 578.8 569.6 579.1 566.6 579.5 563.6 579.8 560.6 580.2 557.6 580.5 554.7 580.9 551.7 581.2 548.7 581.6 545.7 581.9 542.8 582.3 539.8 582.7 536.8 583.0 533.8 583.4 530.9 583.8 527.9 584.1 524.9 584.5 521.9 584.9 519.0 585.2 516.0 585.6 513.0 586.0 510.1 586.4 507.1 586.8 504.1 587.1 501.1 587.5 498.2 587.9 495.2 588.3 492.2 588.7 489.3 589.1 486.3 589.5 483.3 589.9 480.4 590.3 477.4 590.7 474.5 591.1 471.5 591.5 468.5 591.9 465.6 592.4 462.6 592.8 459.6 593.2 456.7 593.6 453.7 594.0 450.8 594.5 447.8 594.9 444.9 595.3 441.9 595.8 438.9 596.2 436.0 596.7 433.0 597.1 430.1 597.6 427.1 598.0 424.2 598.5 421.2 598.9 418.3 599.4 415.3 599.9 412.4 600.3 409.4 600.8 406.5 601.3 403.5 601.7 400.6 602.2 397.7 602.7 394.7 603.2 391.8 603.7 388.8 604.2 385.9 604.7 383.0 605.2 380.0 605.7 377.1 606.2 374.1 606.8 371.1 607.4 368.0 608.1 364.9 608.9 361.6 609.8 358.3 610.8 355.1 612.0 352.1 613.4 349.3 614.9 346.9 616.7 344.9 618.7 343.4 620.8 342.5 623.0 342.3 625.2 342.8 627.4 343.9 629.6 345.6 631.8 347.6 633.8 350.0 635.6 352.6 637.3 355.3 638.8 358.1 640.1 360.9 641.2 363.8 642.2 366.7 643.2 369.7 644.0 372.7 644.8 375.7 645.6 378.7 646.3 381.6 647.0 384.6 647.8 387.5 648.7 390.4 649.6 393.3 650.6 396.1 651.7 398.9 652.9 401.6 654.1 404.3 655.4 406.9 656.7 409.6 658.0 412.2 659.3 414.9 660.7 417.5 662.0 420.2 663.4 422.8 664.7 425.5 666.1 428.1 667.5 430.7 668.9 433.4 670.3 436.0 671.8 438.6 673.2 441.3 674.6 443.9 676.1 446.5 677.5 449.1 679.0 451.7 680.5 454.4 681.9 457.0 683.4 459.6 684.9 462.2 686.4 464.8 687.9 467.4 689.4 470.0 690.9 472.6 692.4 475.2 693.9 477.8 695.4 480.4 696.9 483.0 698.5 485.6 700.0 488.2 701.5 490.8 703.0 493.4 704.5 496.0 706.1 498.6 707.6 501.2 709.1 503.8 710.6 506.4 712.2 509.0 713.7 511.6 715.2 514.2 716.7 516.8 718.3 519.4 719.8 522.0 721.3 524.6 722.8 527.2 724.4 529.7 725.9 532.3 727.4 534.9 729.0 537.5 730.5 540.1 732.1 542.6 733.6 545.2 735.2 547.8 736.7 550.4 738.3 552.9 739.8 555.5 741.4 558.1 742.9 560.6 744.5 563.2 746.1 565.7 747.6 568.3 749.2 570.8 750.8 573.4 752.4 575.9 754.0 578.5 755.5 581.0 757.1 583.5 758.7 586.1 760.3 588.6 762.0 591.1 763.6 593.6 765.2 596.1 766.8 598.6 768.4 601.1 770.1 603.6 771.7 606.1 773.4 608.6 775.0 611.1 776.7 613.6 778.4 616.1 780.0 618.6 781.7 621.0 783.4 623.5 785.1 625.9 786.8 628.4 788.5 630.8 790.2 633.3 791.9 635.7 793.7 638.1 795.4 640.6 797.1 643.0 798.9 645.4 800.7 647.8 802.4 650.2 804.2 652.6 806.0 655.0 807.8 657.4 809.6 659.7 811.4 662.1 813.2 664.5 815.1 666.8 816.9 669.2 818.7 671.5 820.6 673.9 822.4 676.2 824.3 678.5 826.1 680.9 828.0 683.2 829.9 685.5 831.7 687.9 833.6 690.2 835.5 692.5 837.4 694.8 839.2 697.2 841.1 699.5 843.0 701.8 844.8 704.2 846.7 706.5 848.5 708.8 850.4 711.2 852.3 713.5 854.1 715.9 855.9 718.2 857.8 720.6 859.6 722.9 861.4 725.3 863.2 727.7 865.0 730.1 866.8 732.5 868.6 734.9 870.4 737.3 872.2 739.7 873.9 742.1 875.6 744.5 877.4 747.0 879.1 749.4 880.8 751.9 882.5 754.4 884.2 756.9 885.8 759.4 887.5 761.9 889.1 764.4 890.7 766.9 892.4 769.4 894.0 772.0 895.6 774.5 897.2 777.1 898.8 779.6 900.3 782.2 901.9 784.8 903.5 787.3 905.1 789.9 906.6 792.5 908.2 795.1 909.7 797.6 911.3 800.2 912.8 802.8 914.4 805.4 915.9 808.0 917.5 810.6 919.0 813.2 920.6 815.7 922.1 818.3 923.7 820.9 925.3 823.5 926.8 826.1 928.4 828.6 930.0 831.2 931.5 833.7 933.1 836.3 934.7 838.8 936.3 841.4 937.9 843.9 939.5 846.5 941.2 849.0 942.8 851.5 944.4 854.0 946.1 856.5 947.8 859.0 949.4 861.4 951.1 863.9 952.8 866.4 954.6 868.8 956.3 871.2 958.0 873.6 959.8 876.0 961.6 878.4 963.4 880.8 965.2 883.2 967.0 885.5 968.9 887.8 970.8 890.1 972.7 892.4 974.6 894.7 976.5 897.0 978.5 899.2 980.4 901.5 982.4 903.7 984.4 905.9 986.4 908.1 988.5 910.3 990.5 912.4 992.6 914.6 994.7 916.7 996.8 918.8 998.9 921.0 1001.0 923.1 1003.1 925.2 1005.2 927.3 1007.4 929.3 1009.6 931.4 1011.7 933.5 1013.9 935.5 1016.1 937.6 1018.3 939.6 1020.5 941.6 1022.7 943.6 1024.9 945.6 1027.2 947.7 1029.4 949.7 1031.6 951.7 1033.9 953.7 1036.1 955.6 1038.4 957.6 1040.6 959.6 1042.9 961.6 1045.1 963.6 1047.4 965.5 1049.7 967.5 1051.9 969.5 1054.2 971.4 1056.4 973.4 1058.7 975.4 1061.0 977.3 1063.2 979.3 1065.5 981.3 1067.7 983.2 1070.0 985.2 1072.2 987.2 1074.5 989.2 1076.7 991.1 1079.0 993.1 1081.2 995.1 1083.5 997.0 1085.7 999.0 1087.9 1001.0 1090.2 1002.9 1092.4 1004.9 1094.7 1006.8 1096.9 1008.8 1099.2 1010.8 1101.4 1012.7 1103.7 1014.6 1105.9 1016.6 1108.2 1018.5 1110.5 1020.4 1112.8 1022.4 1115.0 1024.3 1117.3 1026.2 1119.6 1028.1 1121.9 1030.0 1124.2 1031.9 1126.5 1033.8 1128.8 1035.6 1131.1 1037.5 1133.5 1039.4 1135.8 1041.2 1138.1 1043.1 1140.5 1044.9 1142.9 1046.7 1145.2 1048.5 1147.6 1050.3 1150.0 1052.1 1152.4 1053.9 1154.8 1055.6 1157.2 1057.4 1159.7 1059.1 1162.1 1060.9 1164.6 1062.6 1167.0 1064.3 1169.5 1066.0 1172.0 1067.7 1174.5 1069.4 1177.0 1071.0 1179.5 1072.7 1182.0 1074.3 1184.5 1076.0 1187.1 1077.6 1189.6 1079.2 1192.1 1080.8 1194.7 1082.4 1197.3 1084.0 1199.8 1085.6 1202.4 1087.1 1205.0 1088.7 1207.6 1090.2 1210.2 1091.7 1212.8 1093.2 1215.4 1094.7 1218.0 1096.2 1220.6 1097.7 1223.2 1099.2 1225.8 1100.7 1228.5 1102.1 1231.1 1103.6 1233.7 1105.0 1236.4 1106.4 1239.0 1107.8 1241.7 1109.3 1244.3 1110.7 1247.0 1112.0 1249.6 1113.4 1252.3 1114.8 1255.0 1116.1 1257.6 1117.5 1260.3 1118.8 1263.0 1120.2 1265.7 1121.5 1268.4 1122.8 1271.1 1124.1 1273.8 1125.4 1276.5 1126.7 1279.2 1128.0 1281.9 1129.2 1284.6 1130.5 1287.3 1131.7 1290.0 1133.0 1292.8 1134.2 1295.5 1135.5 1298.2 1136.7 1300.9 1137.9 1303.7 1139.1 1306.4 1140.3 1309.2 1141.5 1311.9 1142.7 1314.7 1143.9 1317.4 1145.0 1320.2 1146.2 1322.9 1147.3 1325.7 1148.5 1328.4 1149.6 1331.2 1150.8 1334.0 1151.9 1336.8 1153.0 1339.5 1154.1 1342.3 1155.3 1345.1 1156.4 1347.9 1157.5 1350.7 1158.5 1353.4 1159.6 1356.2 1160.7 1359.0 1161.8 1361.8 1162.9 1364.6 1163.9 1367.4 1165.0 1370.2 1166.0 1373.0 1167.1 1375.8 1168.1 1378.6 1169.2 1381.5 1170.2 1384.3 1171.2 1387.1 1172.2 1389.9 1173.3 1392.7 1174.3 1395.5 1175.3 1398.4 1176.3 1401.2 1177.3 1404.0 1178.3 1406.8 1179.3 1409.7 1180.3 1412.5 1181.3 1415.3 1182.2 1418.2 1183.2 1421.0 1184.2 1423.8 1185.2 1426.7 1186.1 1429.5 1187.1 1432.4 1188.0 1435.2 1189.0 1438.0 1190.0 1440.9 1190.9 1443.7 1191.9 1446.6 1192.8 1449.4 1193.7 1452.3 1194.7 1455.1 1195.6 1458.0 1196.6 1460.8 1197.5 1463.7 1198.4 1466.5 1199.3 1469.4 1200.3 1472.2 1201.2 1475.1 1202.1 1477.9 1203.0 1480.8 1204.0 1483.7 1204.9 1486.5 1205.8 1489.4 1206.7 1492.2 1207.6 1495.1 1208.6 1497.9 1209.5 1500.8 1210.5 1503.6 1211.4 1506.5 1212.4 1509.3 1213.3 1512.1 1214.3 1515.0 1215.3 1517.8 1216.3 1520.6 1217.3 1523.4 1218.3 1526.2 1219.4 1529.0 1220.4 1531.8 1221.5 1534.6 1222.6 1537.4 1223.7 1540.2 1224.9 1542.9 1226.0 1545.7 1227.2 1548.4 1228.4 1551.2 1229.7 1553.9 1230.9 1556.6 1232.2 1559.3 1233.5 1562.0 1234.9 1564.7 1236.2 1567.4 1237.6 1570.0 1239.0 1572.7 1240.3 1575.4 1241.7 1578.1 1243.1 1580.7 1244.6 1583.4 1246.0 1586.0 1247.4 1588.7 1248.8 1591.4 1250.2 1594.1 1251.6 1596.7 1252.9 1599.4 1254.3 1602.1 1255.6 1604.8 1257.0 1607.5 1258.3 1610.2 1259.5 1612.9 1260.8 1615.7 1262.0 1618.4 1263.2 1621.2 1264.4 1623.9 1265.6 1626.7 1266.7 1629.4 1267.8 1632.2 1268.9 1635.0 1270.0 1637.8 1271.1 1640.6 1272.1 1643.4 1273.2 1646.2 1274.2 1649.0 1275.2 1651.8 1276.2 1654.7 1277.1 1657.5 1278.1 1660.3 1279.1 1663.2 1280.0 1666.0 1280.9 1668.9 1281.8 1671.7 1282.7 1674.6 1283.6 1677.4 1284.5 1680.3 1285.3 1683.2 1286.2 1686.0 1287.0 1688.9 1287.9 1691.8 1288.7 1694.7 1289.6 1697.6 1290.4 1700.4 1291.2 1703.3 1292.0 1706.2 1292.8 1709.1 1293.7 1712.0 1294.5 1714.9 1295.3 1717.8 1296.1 1720.6 1296.9 1723.5 1297.7 1726.4 1298.5 1729.3 1299.3 1732.2 1300.1 1735.1 1300.9 1738.0 1301.7 1740.9 1302.6 1743.7 1303.4 1746.6 1304.2 1749.5 1305.0 1752.4 1305.9 1755.3 1306.7 1758.2 1307.5 1761.0 1308.4 1763.9 1309.2 1766.8 1310.1 1769.7 1310.9 1772.5 1311.8 1775.4 1312.6 1778.3 1313.5 1781.2 1314.3 1784.0 1315.2 1786.9 1316.1 1789.8 1316.9 1792.7 1317.8 1795.5 1318.6 1798.4 1319.5 1801.3 1320.4 1804.1 1321.2 1807.0 1322.1 1809.9 1323.0 1812.7 1323.8 1815.6 1324.7 1818.5 1325.5 1821.4 1326.4 1824.2 1327.2 1827.1 1328.1 1830.0 1329.0 1832.9 1329.8 1835.7 1330.7 1838.6 1331.5 1841.5 1332.3 1844.4 1333.2 1847.2 1334.0 1850.1 1334.9 1853.0 1335.7 1855.9 1336.5 1858.7 1337.3 1861.6 1338.2 1864.5 1339.0 1867.4 1339.8 1870.3 1340.6 1873.1 1341.4 1876.0 1342.2 1878.9 1343.0 1881.8 1343.8 1884.7 1344.6 1887.6 1345.4 1890.5 1346.1 1893.4 1346.9 1896.3 1347.7 1899.2 1348.4 1902.1 1349.2 1905.0 1349.9 1907.9 1350.6 1910.8 1351.4 1913.7 1352.1 1916.6 1352.8 1919.5 1353.5 1922.4 1354.2 1925.3 1354.9 1928.3 1355.6 1931.2 1356.3 1934.1 1356.9 1937.0 1357.6 1939.9 1358.2 1942.9 1358.9 1945.8 1359.5 1948.7 1360.1 1951.7 1360.7 1954.6 1361.3 1957.6 1361.9 1960.5 1362.5" stroke="#A5A5A5"/>
<path d="M132.1 1377 C136.1 1417 145.5 1458 154.5 1482 M180 1482 Q186 1481 200 1481 L441 1481 M468.0 1484.0L469.3 1481.3 470.6 1478.5 471.8 1475.8 473.0 1473.0 474.2 1470.3 475.3 1467.5 476.4 1464.7 477.5 1462.0 478.6 1459.2 479.7 1456.4 480.7 1453.6 481.7 1450.7 482.6 1447.9 483.6 1445.1 484.5 1442.3 485.4 1439.4 486.3 1436.6 487.1 1433.7 488.0 1430.9 488.8 1428.0 489.6 1425.2 490.3 1422.3 491.1 1419.4 491.8 1416.5 492.5 1413.6 493.2 1410.7 493.9 1407.8 494.6 1404.9 495.2 1402.0 495.9 1399.1 496.5 1396.2 497.1 1393.3 497.6 1390.4 498.2 1387.4 498.8 1384.5 499.3 1381.6 499.8 1378.6 500.3 1375.7 500.8 1372.7 501.3 1369.8 501.8 1366.8 502.2 1363.9 502.7 1360.9 503.1 1357.9 503.6 1355.0 504.0 1352.0 504.4 1349.0 504.8 1346.1 505.2 1343.1 505.6 1340.1 506.0 1337.1 506.4 1334.2 506.7 1331.2 507.1 1328.2 507.5 1325.2 507.8 1322.2 508.2 1319.2 508.5 1316.2 508.9 1313.3 509.2 1310.3 509.6 1307.3 509.9 1304.3 510.2 1301.3 510.6 1298.3 510.9 1295.3 511.2 1292.3 511.6 1289.3 511.9 1286.3 512.2 1283.4 512.6 1280.4 512.9 1277.4 513.3 1274.4 513.6 1271.4 514.0 1268.4 514.3 1265.4 514.7 1262.4 515.0 1259.5 515.4 1256.5 515.7 1253.5 516.1 1250.5 516.4 1247.5 516.8 1244.5 517.1 1241.6 517.5 1238.6 517.9 1235.6 518.2 1232.6 518.6 1229.6 519.0 1226.7 519.3 1223.7 519.7 1220.7 520.1 1217.7 520.4 1214.7 520.8 1211.8 521.2 1208.8 521.6 1205.8 521.9 1202.8 522.3 1199.9 522.7 1196.9 523.1 1193.9 523.5 1190.9 523.8 1188.0 524.2 1185.0 524.6 1182.0 525.0 1179.0 525.4 1176.1 525.8 1173.1 526.2 1170.1 526.5 1167.2 526.9 1164.2 527.3 1161.2 527.7 1158.3 528.1 1155.3 528.5 1152.3 528.9 1149.3 529.3 1146.4 529.7 1143.4 530.1 1140.4 530.5 1137.5 530.9 1134.5 531.3 1131.5 531.7 1128.6 532.1 1125.6 532.5 1122.7 532.9 1119.7 533.4 1116.7 533.8 1113.8 534.2 1110.8 534.6 1107.8 535.0 1104.9 535.4 1101.9 535.8 1098.9 536.2 1096.0 536.6 1093.0 537.1 1090.1 537.5 1087.1 537.9 1084.1 538.3 1081.2 538.7 1078.2 539.1 1075.3 539.6 1072.3 540.0 1069.3 540.4 1066.4 540.8 1063.4 541.2 1060.5 541.7 1057.5 542.1 1054.5 542.5 1051.6 542.9 1048.6 543.3 1045.7 543.8 1042.7 544.2 1039.8 544.6 1036.8 545.0 1033.8 545.5 1030.9 545.9 1027.9 546.3 1025.0 546.8 1022.0 547.2 1019.1 547.6 1016.1 548.0 1013.2 548.5 1010.2 548.9 1007.3 549.3 1004.3 549.8 1001.3 550.2 998.4 550.6 995.4 551.0 992.5 551.5 989.5 551.9 986.6 552.3 983.6 552.8 980.7 553.2 977.7 553.7 974.7 554.1 971.8 554.5 968.8 555.0 965.9 555.4 962.9 555.9 960.0 556.3 957.0 556.8 954.0 557.2 951.1 557.7 948.1 558.1 945.1 558.6 942.2 559.0 939.2 559.5 936.2 559.9 933.3 560.4 930.3 560.8 927.3 561.3 924.4 561.8 921.4 562.2 918.4 562.7 915.5 563.2 912.5 563.6 909.5 564.1 906.5 564.6 903.5 565.1 900.6 565.5 897.6 566.0 894.6 566.5 891.6 567.0 888.6 567.5 885.6 568.0 882.7 568.5 879.7 569.0 876.7 569.5 873.7 570.0 870.7 570.5 867.7 571.0 864.8 571.6 861.8 572.1 858.8 572.6 855.9 573.2 852.9 573.7 849.9 574.3 847.0 574.8 844.0 575.4 841.1 576.0 838.2 576.6 835.2 577.2 832.3 577.8 829.4 578.4 826.5 579.0 823.6 579.6 820.7 580.3 817.9 580.9 815.0 581.6 812.1 582.2 809.3 582.9 806.5 583.6 803.6 584.3 800.8 585.0 798.0 585.7 795.2 586.5 792.4 587.2 789.6 588.0 786.8 588.7 783.9 589.5 781.1 590.3 778.2 591.0 775.3 591.8 772.3 592.6 769.3 593.4 766.3 594.2 763.2 595.0 760.1 595.9 757.0 596.8 753.8 597.8 750.8 599.0 747.9 600.3 745.3 602.0 742.9 603.9 740.8 606.1 739.0 608.7 737.9 611.3 737.5 613.8 738.0 616.0 739.5 617.9 741.8 619.5 744.4 621.0 747.2 622.4 750.1 623.8 752.9 625.0 755.7 626.2 758.6 627.4 761.5 628.5 764.4 629.5 767.3 630.5 770.2 631.5 773.1 632.4 776.0 633.3 778.9 634.1 781.8 635.0 784.7 635.8 787.6 636.6 790.5 637.4 793.3 638.2 796.2 639.0 799.1 639.9 801.9 640.7 804.8 641.6 807.6 642.5 810.4 643.4 813.2 644.4 815.9 645.4 818.7 646.5 821.4 647.6 824.1 648.8 826.7 650.0 829.4 651.3 832.0 652.6 834.6 654.0 837.1 655.5 839.6 657.0 842.2 658.5 844.6 660.1 847.1 661.7 849.5 663.4 852.0 665.1 854.4 666.9 856.7 668.7 859.1 670.5 861.4 672.3 863.8 674.2 866.1 676.2 868.4 678.1 870.6 680.1 872.9 682.1 875.1 684.2 877.3 686.3 879.5 688.4 881.7 690.5 883.9 692.6 886.0 694.8 888.2 696.9 890.3 699.1 892.4 701.3 894.6 703.5 896.7 705.8 898.8 708.0 900.8 710.3 902.9 712.5 905.0 714.8 907.0 717.0 909.1 719.3 911.1 721.6 913.1 723.8 915.2 726.1 917.2 728.4 919.2 730.6 921.2 732.9 923.2 735.2 925.2 737.4 927.2 739.7 929.2 742.0 931.2 744.2 933.2 746.5 935.2 748.8 937.1 751.0 939.1 753.3 941.1 755.6 943.0 757.8 945.0 760.1 947.0 762.3 948.9 764.6 950.9 766.8 952.8 769.1 954.8 771.3 956.7 773.6 958.7 775.8 960.7 778.1 962.6 780.3 964.6 782.6 966.5 784.8 968.5 787.1 970.4 789.3 972.4 791.5 974.3 793.8 976.3 796.0 978.3 798.2 980.2 800.4 982.2 802.7 984.2 804.9 986.1 807.1 988.1 809.3 990.1 811.5 992.1 813.7 994.0 815.9 996.0 818.1 998.0 820.3 1000.0 822.5 1002.0 824.7 1004.0 826.9 1006.0 829.1 1008.1 831.2 1010.1 833.4 1012.1 835.6 1014.2 837.7 1016.2 839.9 1018.2 842.0 1020.3 844.2 1022.4 846.3 1024.4 848.5 1026.5 850.6 1028.6 852.7 1030.7 854.9 1032.8 857.0 1034.9 859.1 1037.0 861.2 1039.2 863.3 1041.3 865.4 1043.5 867.5 1045.6 869.6 1047.8 871.7 1050.0 873.8 1052.1 875.9 1054.3 877.9 1056.5 880.0 1058.7 882.1 1060.9 884.2 1063.1 886.2 1065.3 888.3 1067.5 890.4 1069.7 892.4 1071.9 894.5 1074.1 896.6 1076.3 898.7 1078.6 900.7 1080.8 902.8 1083.0 904.9 1085.2 907.0 1087.4 909.1 1089.6 911.2 1091.8 913.2 1093.9 915.3 1096.1 917.4 1098.3 919.6 1100.5 921.7 1102.6 923.8 1104.8 925.9 1106.9 928.0 1109.0 930.2 1111.2 932.3 1113.3 934.5 1115.4 936.6 1117.5 938.8 1119.5 941.0 1121.6 943.2 1123.7 945.4 1125.7 947.6 1127.7 949.8 1129.7 952.0 1131.7 954.3 1133.7 956.5 1135.6 958.8 1137.6 961.1 1139.5 963.4 1141.4 965.7 1143.2 968.0 1145.1 970.3 1146.9 972.7 1148.8 975.0 1150.5 977.4 1152.3 979.8 1154.1 982.2 1155.8 984.6 1157.5 987.1 1159.1 989.5 1160.8 992.0 1162.4 994.5 1164.0 997.0 1165.6 999.6 1167.1 1002.1 1168.6 1004.7 1170.1 1007.3 1171.5 1009.9 1173.0 1012.5 1174.4 1015.1 1175.8 1017.7 1177.2 1020.4 1178.5 1023.0 1179.9 1025.7 1181.2 1028.4 1182.5 1031.1 1183.8 1033.7 1185.1 1036.4 1186.4 1039.1 1187.7 1041.8 1189.0 1044.5 1190.3 1047.2 1191.6 1049.9 1192.8 1052.6 1194.1 1055.3 1195.4 1058.0 1196.7 1060.7 1198.0 1063.4 1199.3 1066.1 1200.6 1068.8 1201.9 1071.5 1203.2 1074.2 1204.5 1076.9 1205.8 1079.5 1207.1 1082.2 1208.4 1084.9 1209.8 1087.6 1211.1 1090.3 1212.4 1092.9 1213.7 1095.6 1215.0 1098.3 1216.4 1101.0 1217.7 1103.6 1219.0 1106.3 1220.3 1109.0 1221.6 1111.7 1223.0 1114.4 1224.3 1117.0 1225.6 1119.7 1226.9 1122.4 1228.2 1125.1 1229.5 1127.8 1230.8 1130.5 1232.1 1133.2 1233.3 1135.9 1234.6 1138.6 1235.9 1141.3 1237.2 1144.0 1238.4 1146.7 1239.7 1149.4 1240.9 1152.1 1242.2 1154.8 1243.4 1157.6 1244.6 1160.3 1245.8 1163.0 1247.1 1165.8 1248.3 1168.5 1249.4 1171.3 1250.6 1174.0 1251.8 1176.8 1253.0 1179.5 1254.1 1182.3 1255.3 1185.0 1256.4 1187.8 1257.6 1190.6 1258.7 1193.4 1259.8 1196.1 1260.9 1198.9 1262.0 1201.7 1263.1 1204.5 1264.2 1207.3 1265.3 1210.1 1266.3 1212.9 1267.4 1215.7 1268.4 1218.5 1269.4 1221.3 1270.5 1224.1 1271.5 1226.9 1272.5 1229.7 1273.5 1232.6 1274.4 1235.4 1275.4 1238.2 1276.4 1241.1 1277.3 1243.9 1278.2 1246.7 1279.2 1249.6 1280.1 1252.4 1281.0 1255.3 1281.9 1258.1 1282.8 1261.0 1283.6 1263.8 1284.5 1266.7 1285.3 1269.6 1286.2 1272.4 1287.0 1275.3 1287.8 1278.2 1288.6 1281.1 1289.4 1283.9 1290.2 1286.8 1291.0 1289.7 1291.8 1292.6 1292.5 1295.5 1293.3 1298.4 1294.0 1301.3 1294.8 1304.2 1295.5 1307.1 1296.2 1310.0 1296.9 1312.9 1297.6 1315.8 1298.3 1318.7 1299.0 1321.6 1299.7 1324.5 1300.4 1327.4 1301.0 1330.3 1301.7 1333.3 1302.3 1336.2 1303.0 1339.1 1303.6 1342.0 1304.3 1344.9 1304.9 1347.9 1305.5 1350.8 1306.1 1353.7 1306.7 1356.7 1307.3 1359.6 1307.9 1362.5 1308.5 1365.5 1309.1 1368.4 1309.7 1371.3 1310.3 1374.3 1310.9 1377.2 1311.5 1380.2 1312.0 1383.1 1312.6 1386.0 1313.2 1389.0 1313.7 1391.9 1314.3 1394.9 1314.8 1397.8 1315.4 1400.8 1315.9 1403.7 1316.5 1406.7 1317.0 1409.6 1317.6 1412.6 1318.1 1415.5 1318.6 1418.5 1319.2 1421.4 1319.7 1424.4 1320.2 1427.3 1320.8 1430.3 1321.3 1433.2 1321.8 1436.2 1322.4 1439.1 1322.9 1442.1 1323.4 1445.0 1324.0 1448.0 1324.5 1450.9 1325.0 1453.9 1325.6 1456.8 1326.1 1459.8 1326.6 1462.7 1327.1 1465.7 1327.7 1468.6 1328.2 1471.6 1328.8 1474.5 1329.3 1477.5 1329.8 1480.4 1330.4 1483.3 1330.9 1486.3 1331.5 1489.2 1332.0 1492.2 1332.6 1495.1 1333.1 1498.1 1333.7 1501.0 1334.3 1503.9 1334.8 1506.9 1335.4 1509.8 1336.0 1512.7 1336.5 1515.7 1337.1 1518.6 1337.7 1521.6 1338.3 1524.5 1338.9 1527.4 1339.4 1530.3 1340.0 1533.3 1340.6 1536.2 1341.2 1539.1 1341.8 1542.1 1342.4 1545.0 1343.0 1547.9 1343.6 1550.8 1344.2 1553.8 1344.8 1556.7 1345.4 1559.6 1346.0 1562.5 1346.6 1565.5 1347.2 1568.4 1347.8 1571.3 1348.5 1574.2 1349.1 1577.2 1349.7 1580.1 1350.3 1583.0 1350.9 1585.9 1351.5 1588.8 1352.1 1591.8 1352.8 1594.7 1353.4 1597.6 1354.0 1600.5 1354.6 1603.5 1355.2 1606.4 1355.8 1609.3 1356.5 1612.2 1357.1 1615.1 1357.7 1618.1 1358.3 1621.0 1358.9 1623.9 1359.6 1626.8 1360.2 1629.7 1360.8 1632.7 1361.4 1635.6 1362.0 1638.5 1362.6 1641.4 1363.2 1644.3 1363.9 1647.3 1364.5 1650.2 1365.1 1653.1 1365.7 1656.0 1366.3 1659.0 1366.9 1661.9 1367.5 1664.8 1368.1 1667.7 1368.7 1670.6 1369.3 1673.6 1369.9 1676.5 1370.5 1679.4 1371.1 1682.4 1371.7 1685.3 1372.3 1688.2 1372.9 1691.1 1373.4 1694.1 1374.0 1697.0 1374.6 1699.9 1375.2 1702.9 1375.8 1705.8 1376.3 1708.7 1376.9 1711.7 1377.5 1714.6 1378.0 1717.5 1378.6 1720.5 1379.1 1723.4 1379.7 1726.3 1380.2 1729.3 1380.8 1732.2 1381.3 1735.2 1381.9 1738.1 1382.4 1741.0 1383.0 1744.0 1383.5 1746.9 1384.0 1749.9 1384.5 1752.8 1385.1 1755.8 1385.6 1758.7 1386.1 1761.7 1386.6 1764.6 1387.1 1767.6 1387.6 1770.5 1388.1 1773.5 1388.6 1776.4 1389.1 1779.4 1389.6 1782.3 1390.1 1785.3 1390.6 1788.2 1391.1 1791.2 1391.6 1794.1 1392.0 1797.1 1392.5 1800.1 1393.0 1803.0 1393.5 1806.0 1393.9 1808.9 1394.4 1811.9 1394.8 1814.9 1395.3 1817.8 1395.7 1820.8 1396.2 1823.7 1396.6 1826.7 1397.1 1829.7 1397.5 1832.6 1398.0 1835.6 1398.4 1838.6 1398.8 1841.5 1399.2 1844.5 1399.7 1847.5 1400.1 1850.4 1400.5 1853.4 1400.9 1856.4 1401.3 1859.3 1401.7 1862.3 1402.1 1865.3 1402.5 1868.2 1402.9 1871.2 1403.3 1874.2 1403.7 1877.2 1404.1 1880.1 1404.5 1883.1 1404.9 1886.1 1405.2 1889.1 1405.6 1892.0 1406.0 1895.0 1406.3 1898.0 1406.7 1900.9 1407.1 1903.9 1407.4 1906.9 1407.8 1909.9 1408.1 1912.8 1408.5 1915.8 1408.8 1918.8 1409.2 1921.8 1409.5 1924.8 1409.8 1927.7 1410.2 1930.7 1410.5 1933.7 1410.8 1936.7 1411.1 1939.6 1411.5 1942.6 1411.8 1945.6 1412.1 1948.6 1412.4 1951.6 1412.7 1954.5 1413.0 1957.5 1413.3 1960.5 1413.6" stroke="#FFC000"/>
<path d="M131.0 1371 C135.0 1411 142.0 1458 151.0 1482 M180 1483.5 Q186 1482.5 200 1482.5 L441 1482.5 M467.0 1484.0L468.3 1481.3 469.6 1478.5 470.8 1475.8 472.0 1473.0 473.2 1470.3 474.4 1467.5 475.5 1464.7 476.6 1461.9 477.6 1459.1 478.7 1456.3 479.7 1453.5 480.7 1450.7 481.7 1447.9 482.6 1445.0 483.6 1442.2 484.5 1439.4 485.3 1436.5 486.2 1433.7 487.0 1430.8 487.8 1428.0 488.6 1425.1 489.4 1422.2 490.1 1419.3 490.9 1416.4 491.6 1413.5 492.2 1410.7 492.9 1407.8 493.6 1404.8 494.2 1401.9 494.8 1399.0 495.4 1396.1 496.0 1393.2 496.6 1390.2 497.1 1387.3 497.6 1384.4 498.2 1381.4 498.7 1378.5 499.2 1375.5 499.6 1372.6 500.1 1369.6 500.6 1366.7 501.0 1363.7 501.4 1360.8 501.8 1357.8 502.2 1354.8 502.6 1351.8 503.0 1348.9 503.4 1345.9 503.8 1342.9 504.1 1339.9 504.5 1337.0 504.8 1334.0 505.1 1331.0 505.5 1328.0 505.8 1325.0 506.1 1322.0 506.4 1319.0 506.7 1316.0 507.0 1313.0 507.3 1310.0 507.6 1307.0 507.9 1304.0 508.1 1301.0 508.4 1298.0 508.7 1295.0 509.0 1292.0 509.2 1289.0 509.5 1286.0 509.8 1283.0 510.0 1280.0 510.3 1277.0 510.6 1274.0 510.8 1271.0 511.1 1268.0 511.4 1265.0 511.6 1262.0 511.9 1259.1 512.2 1256.1 512.4 1253.1 512.7 1250.1 513.0 1247.1 513.2 1244.1 513.5 1241.1 513.8 1238.1 514.0 1235.1 514.3 1232.1 514.6 1229.1 514.8 1226.1 515.1 1223.1 515.3 1220.1 515.6 1217.1 515.9 1214.1 516.1 1211.1 516.4 1208.1 516.7 1205.1 516.9 1202.1 517.2 1199.1 517.4 1196.1 517.7 1193.2 518.0 1190.2 518.2 1187.2 518.5 1184.2 518.7 1181.2 519.0 1178.2 519.2 1175.2 519.5 1172.2 519.8 1169.2 520.0 1166.2 520.3 1163.2 520.5 1160.2 520.8 1157.2 521.0 1154.2 521.3 1151.3 521.5 1148.3 521.8 1145.3 522.1 1142.3 522.3 1139.3 522.6 1136.3 522.8 1133.3 523.1 1130.3 523.3 1127.3 523.6 1124.3 523.8 1121.4 524.1 1118.4 524.3 1115.4 524.6 1112.4 524.8 1109.4 525.1 1106.4 525.3 1103.4 525.6 1100.4 525.8 1097.4 526.1 1094.4 526.3 1091.5 526.6 1088.5 526.8 1085.5 527.1 1082.5 527.3 1079.5 527.6 1076.5 527.8 1073.5 528.1 1070.5 528.3 1067.5 528.5 1064.6 528.8 1061.6 529.0 1058.6 529.3 1055.6 529.5 1052.6 529.8 1049.6 530.0 1046.6 530.3 1043.6 530.5 1040.6 530.7 1037.7 531.0 1034.7 531.2 1031.7 531.5 1028.7 531.7 1025.7 532.0 1022.7 532.2 1019.7 532.4 1016.7 532.7 1013.8 532.9 1010.8 533.2 1007.8 533.4 1004.8 533.6 1001.8 533.9 998.8 534.1 995.8 534.4 992.8 534.6 989.9 534.8 986.9 535.1 983.9 535.3 980.9 535.6 977.9 535.8 974.9 536.0 971.9 536.3 968.9 536.5 966.0 536.7 963.0 537.0 960.0 537.2 957.0 537.4 954.0 537.7 951.0 537.9 948.0 538.2 945.0 538.4 942.0 538.6 939.1 538.9 936.1 539.1 933.1 539.3 930.1 539.6 927.1 539.8 924.1 540.0 921.1 540.3 918.1 540.5 915.2 540.7 912.2 541.0 909.2 541.2 906.2 541.4 903.2 541.7 900.2 541.9 897.2 542.1 894.2 542.3 891.3 542.6 888.3 542.8 885.3 543.0 882.3 543.3 879.3 543.5 876.3 543.7 873.3 544.0 870.3 544.2 867.3 544.4 864.4 544.7 861.4 544.9 858.4 545.1 855.4 545.3 852.4 545.6 849.4 545.8 846.4 546.0 843.4 546.3 840.5 546.5 837.5 546.7 834.5 547.0 831.5 547.2 828.5 547.4 825.5 547.6 822.5 547.9 819.5 548.1 816.5 548.3 813.6 548.6 810.6 548.8 807.6 549.0 804.6 549.3 801.6 549.5 798.6 549.7 795.6 549.9 792.6 550.2 789.6 550.4 786.7 550.6 783.7 550.9 780.7 551.1 777.7 551.3 774.7 551.6 771.7 551.8 768.7 552.0 765.7 552.2 762.7 552.5 759.8 552.7 756.8 552.9 753.8 553.2 750.8 553.4 747.8 553.6 744.8 553.9 741.8 554.1 738.8 554.3 735.8 554.5 732.9 554.8 729.9 555.0 726.9 555.2 723.9 555.5 720.9 555.7 717.9 555.9 714.9 556.2 711.9 556.4 708.9 556.6 706.0 556.9 703.0 557.1 700.0 557.3 697.0 557.6 694.0 557.8 691.0 558.0 688.0 558.3 685.0 558.5 682.0 558.7 679.0 559.0 676.1 559.2 673.1 559.4 670.1 559.7 667.1 559.9 664.1 560.1 661.1 560.4 658.1 560.6 655.1 560.9 652.1 561.1 649.1 561.3 646.2 561.6 643.2 561.8 640.2 562.0 637.2 562.3 634.2 562.5 631.2 562.8 628.2 563.0 625.2 563.2 622.2 563.5 619.2 563.7 616.2 564.0 613.3 564.2 610.3 564.4 607.3 564.7 604.3 564.9 601.3 565.2 598.3 565.4 595.3 565.6 592.3 565.9 589.3 566.1 586.3 566.4 583.4 566.6 580.4 566.9 577.4 567.1 574.4 567.3 571.4 567.6 568.4 567.8 565.4 568.1 562.4 568.3 559.4 568.6 556.4 568.8 553.4 569.1 550.4 569.3 547.5 569.6 544.5 569.8 541.5 570.1 538.5 570.3 535.5 570.6 532.5 570.8 529.5 571.1 526.5 571.3 523.5 571.6 520.5 571.8 517.5 572.1 514.5 572.3 511.6 572.6 508.6 572.9 505.6 573.1 502.6 573.4 499.6 573.6 496.6 573.9 493.6 574.1 490.6 574.4 487.6 574.7 484.6 574.9 481.6 575.2 478.6 575.4 475.6 575.7 472.7 576.0 469.7 576.2 466.7 576.5 463.7 576.7 460.7 577.0 457.7 577.3 454.7 577.5 451.7 577.8 448.7 578.1 445.7 578.3 442.7 578.6 439.7 578.9 436.7 579.1 433.7 579.4 430.8 579.7 427.8 580.0 424.8 580.2 421.8 580.5 418.8 580.8 415.8 581.0 412.8 581.3 409.8 581.6 406.8 581.9 403.8 582.1 400.8 582.4 397.8 582.7 394.8 583.0 391.8 583.2 388.8 583.5 385.9 583.8 382.9 584.1 379.9 584.4 376.9 584.7 373.9 584.9 370.9 585.2 367.9 585.5 364.9 585.8 361.9 586.1 358.9 586.4 355.9 586.7 352.9 586.9 349.9 587.2 346.9 587.5 343.9 587.8 340.9 588.1 337.9 588.4 334.9 588.7 331.9 589.0 329.0 589.3 326.0 589.6 323.0 589.9 320.0 590.2 317.0 590.5 314.0 590.8 311.0 591.1 308.0 591.4 305.0 591.7 302.0 592.0 299.0 592.3 296.1 592.6 293.1 592.9 290.1 593.3 287.1 593.6 284.1 593.9 281.1 594.2 278.1 594.6 275.2 594.9 272.2 595.2 269.2 595.6 266.2 595.9 263.3 596.2 260.3 596.6 257.3 596.9 254.4 597.3 251.4 597.6 248.4 598.0 245.5 598.3 242.5 598.7 239.6 599.1 236.6 599.4 233.6 599.8 230.7 600.2 227.7 600.6 224.8 601.0 221.9 601.3 218.9 601.7 216.0 602.1 213.0 602.5 210.1 602.9 207.2 603.4 204.3 603.8 201.3 604.2 198.4 604.6 195.5 605.0 192.6 605.5 189.7 605.9 186.8 606.4 183.8 606.8 180.9 607.3 178.0 607.7 175.1 608.2 172.2 608.7 169.2 609.1 166.3 609.6 163.4 610.1 160.5 610.6 157.5 611.1 154.6 611.6 151.6 612.1 148.7 612.6 145.7 613.1 142.7 613.7 139.7 614.2 136.7 614.8 133.7 615.3 130.7 615.9 127.7 616.4 124.7 617.0 121.6 617.6 118.6 618.2 115.5 618.8 112.4 619.4 109.3 620.1 106.3 620.9 103.3 621.8 100.3 622.8 97.4 624.0 94.7 625.4 92.0 627.0 89.4 628.7 87.0 630.8 84.7 633.0 82.8 635.4 81.3 637.9 80.8 640.3 81.3 642.7 82.7 645.0 84.7 647.2 86.8 649.3 89.1 651.3 91.3 653.2 93.7 655.0 96.0 656.8 98.5 658.5 100.9 660.1 103.5 661.7 106.0 663.2 108.6 664.7 111.2 666.1 113.9 667.5 116.5 668.9 119.2 670.2 121.9 671.5 124.6 672.8 127.4 674.1 130.1 675.4 132.8 676.6 135.6 677.9 138.3 679.2 141.1 680.4 143.8 681.7 146.5 682.9 149.3 684.1 152.0 685.4 154.8 686.6 157.5 687.8 160.3 689.1 163.0 690.3 165.8 691.5 168.5 692.7 171.3 693.9 174.1 695.2 176.8 696.4 179.6 697.6 182.3 698.8 185.1 700.0 187.8 701.2 190.6 702.4 193.4 703.6 196.1 704.8 198.9 706.0 201.6 707.2 204.4 708.4 207.1 709.6 209.9 710.8 212.6 712.0 215.4 713.2 218.2 714.4 220.9 715.6 223.7 716.8 226.4 718.0 229.2 719.2 231.9 720.4 234.7 721.6 237.4 722.8 240.1 724.1 242.9 725.3 245.6 726.5 248.4 727.7 251.1 728.9 253.8 730.2 256.6 731.4 259.3 732.6 262.0 733.9 264.8 735.1 267.5 736.4 270.2 737.6 272.9 738.9 275.6 740.1 278.4 741.4 281.1 742.7 283.8 744.0 286.5 745.2 289.2 746.5 291.9 747.8 294.6 749.1 297.3 750.4 300.0 751.7 302.6 753.1 305.3 754.4 308.0 755.7 310.7 757.1 313.4 758.4 316.0 759.8 318.7 761.1 321.4 762.5 324.0 763.8 326.7 765.2 329.3 766.6 332.0 768.0 334.6 769.4 337.3 770.8 339.9 772.2 342.6 773.6 345.2 775.0 347.8 776.4 350.5 777.8 353.1 779.2 355.7 780.6 358.4 782.1 361.0 783.5 363.6 784.9 366.2 786.4 368.9 787.8 371.5 789.2 374.1 790.7 376.7 792.1 379.3 793.6 381.9 795.0 384.6 796.5 387.2 798.0 389.8 799.4 392.4 800.9 395.0 802.4 397.6 803.8 400.2 805.3 402.8 806.8 405.4 808.2 408.0 809.7 410.6 811.2 413.2 812.6 415.8 814.1 418.4 815.6 421.0 817.1 423.6 818.5 426.2 820.0 428.9 821.5 431.5 823.0 434.1 824.5 436.7 825.9 439.3 827.4 441.9 828.9 444.5 830.4 447.1 831.8 449.7 833.3 452.3 834.8 454.9 836.3 457.5 837.7 460.1 839.2 462.7 840.7 465.3 842.1 467.9 843.6 470.6 845.0 473.2 846.5 475.8 848.0 478.4 849.4 481.0 850.9 483.7 852.3 486.3 853.8 488.9 855.2 491.5 856.7 494.1 858.1 496.8 859.5 499.4 861.0 502.0 862.4 504.7 863.8 507.3 865.2 510.0 866.6 512.6 868.1 515.2 869.5 517.9 870.9 520.5 872.3 523.2 873.7 525.9 875.0 528.5 876.4 531.2 877.8 533.8 879.2 536.5 880.6 539.2 881.9 541.9 883.3 544.5 884.6 547.2 886.0 549.9 887.3 552.6 888.7 555.3 890.0 558.0 891.3 560.7 892.6 563.4 894.0 566.1 895.3 568.8 896.6 571.5 897.9 574.2 899.2 576.9 900.5 579.6 901.8 582.3 903.1 585.0 904.4 587.7 905.7 590.4 907.0 593.1 908.3 595.9 909.6 598.6 910.9 601.3 912.2 604.0 913.4 606.7 914.7 609.5 916.0 612.2 917.3 614.9 918.6 617.6 919.9 620.3 921.1 623.1 922.4 625.8 923.7 628.5 925.0 631.2 926.3 633.9 927.6 636.6 928.8 639.4 930.1 642.1 931.4 644.8 932.7 647.5 934.0 650.2 935.3 652.9 936.6 655.6 937.9 658.3 939.2 661.0 940.5 663.7 941.8 666.4 943.1 669.1 944.4 671.8 945.8 674.5 947.1 677.2 948.4 679.9 949.7 682.6 951.1 685.3 952.4 688.0 953.7 690.6 955.1 693.3 956.4 696.0 957.8 698.7 959.2 701.3 960.5 704.0 961.9 706.6 963.3 709.3 964.7 711.9 966.1 714.6 967.5 717.2 968.9 719.8 970.3 722.5 971.7 725.1 973.2 727.7 974.6 730.3 976.0 732.9 977.5 735.6 979.0 738.2 980.4 740.7 981.9 743.3 983.4 745.9 984.9 748.5 986.4 751.1 987.9 753.6 989.4 756.2 991.0 758.8 992.5 761.3 994.0 763.8 995.6 766.4 997.2 768.9 998.8 771.4 1000.4 773.9 1002.0 776.4 1003.6 778.9 1005.2 781.4 1006.8 783.9 1008.5 786.4 1010.2 788.9 1011.8 791.3 1013.5 793.8 1015.2 796.2 1016.9 798.7 1018.6 801.1 1020.4 803.5 1022.1 805.9 1023.9 808.4 1025.7 810.7 1027.5 813.1 1029.3 815.5 1031.1 817.9 1032.9 820.2 1034.8 822.6 1036.6 824.9 1038.5 827.3 1040.4 829.6 1042.3 831.9 1044.2 834.2 1046.2 836.5 1048.1 838.8 1050.1 841.1 1052.1 843.3 1054.1 845.6 1056.1 847.8 1058.1 850.1 1060.1 852.3 1062.2 854.5 1064.3 856.7 1066.3 858.9 1068.4 861.1 1070.5 863.2 1072.6 865.4 1074.8 867.6 1076.9 869.7 1079.1 871.8 1081.2 873.9 1083.4 876.0 1085.6 878.1 1087.8 880.2 1090.0 882.3 1092.2 884.4 1094.4 886.4 1096.7 888.5 1098.9 890.5 1101.2 892.5 1103.4 894.5 1105.7 896.5 1108.0 898.5 1110.3 900.4 1112.6 902.4 1114.9 904.4 1117.2 906.3 1119.6 908.2 1121.9 910.1 1124.3 912.0 1126.6 913.9 1129.0 915.8 1131.3 917.6 1133.7 919.5 1136.1 921.3 1138.5 923.2 1140.9 925.0 1143.3 926.8 1145.7 928.6 1148.1 930.3 1150.5 932.1 1153.0 933.9 1155.4 935.6 1157.8 937.3 1160.3 939.0 1162.7 940.8 1165.2 942.5 1167.6 944.1 1170.1 945.8 1172.5 947.5 1175.0 949.2 1177.4 950.9 1179.9 952.6 1182.3 954.2 1184.8 955.9 1187.2 957.6 1189.7 959.3 1192.1 961.0 1194.5 962.7 1197.0 964.4 1199.4 966.1 1201.8 967.8 1204.2 969.5 1206.6 971.2 1209.0 973.0 1211.4 974.7 1213.8 976.5 1216.1 978.3 1218.5 980.1 1220.8 981.9 1223.2 983.8 1225.5 985.6 1227.8 987.5 1230.1 989.4 1232.4 991.3 1234.6 993.2 1236.9 995.2 1239.1 997.2 1241.3 999.2 1243.6 1001.2 1245.7 1003.3 1247.9 1005.4 1250.1 1007.5 1252.2 1009.7 1254.3 1011.8 1256.4 1014.0 1258.5 1016.3 1260.6 1018.5 1262.6 1020.7 1264.7 1023.0 1266.8 1025.3 1268.8 1027.5 1270.9 1029.8 1272.9 1032.1 1275.0 1034.4 1277.1 1036.6 1279.1 1038.9 1281.2 1041.1 1283.3 1043.4 1285.4 1045.6 1287.5 1047.8 1289.6 1050.0 1291.7 1052.1 1293.9 1054.2 1296.1 1056.3 1298.2 1058.4 1300.5 1060.4 1302.7 1062.4 1305.0 1064.3 1307.3 1066.2 1309.6 1068.1 1311.9 1069.9 1314.3 1071.6 1316.7 1073.3 1319.2 1075.0 1321.7 1076.6 1324.2 1078.1 1326.8 1079.6 1329.3 1081.0 1331.9 1082.4 1334.6 1083.8 1337.2 1085.1 1339.9 1086.3 1342.6 1087.6 1345.3 1088.8 1348.1 1090.0 1350.8 1091.1 1353.6 1092.3 1356.4 1093.4 1359.1 1094.5 1361.9 1095.6 1364.8 1096.6 1367.6 1097.7 1370.4 1098.7 1373.2 1099.8 1376.0 1100.8 1378.9 1101.9 1381.7 1102.9 1384.5 1104.0 1387.3 1105.0 1390.1 1106.1 1392.9 1107.1 1395.7 1108.2 1398.5 1109.3 1401.3 1110.4 1404.1 1111.5 1406.8 1112.6 1409.6 1113.7 1412.4 1114.8 1415.2 1116.0 1417.9 1117.1 1420.7 1118.2 1423.4 1119.4 1426.2 1120.6 1428.9 1121.8 1431.6 1122.9 1434.4 1124.1 1437.1 1125.4 1439.8 1126.6 1442.5 1127.8 1445.2 1129.0 1447.9 1130.3 1450.6 1131.5 1453.3 1132.8 1456.0 1134.1 1458.7 1135.4 1461.4 1136.7 1464.1 1138.0 1466.8 1139.3 1469.5 1140.6 1472.1 1141.9 1474.8 1143.3 1477.5 1144.6 1480.2 1145.9 1482.8 1147.3 1485.5 1148.7 1488.1 1150.0 1490.8 1151.4 1493.4 1152.8 1496.1 1154.2 1498.7 1155.6 1501.4 1157.0 1504.0 1158.4 1506.7 1159.8 1509.3 1161.2 1511.9 1162.6 1514.6 1164.0 1517.2 1165.4 1519.8 1166.9 1522.5 1168.3 1525.1 1169.7 1527.7 1171.2 1530.4 1172.6 1533.0 1174.1 1535.6 1175.5 1538.2 1177.0 1540.8 1178.4 1543.5 1179.9 1546.1 1181.3 1548.7 1182.8 1551.3 1184.3 1553.9 1185.7 1556.6 1187.2 1559.2 1188.7 1561.8 1190.1 1564.4 1191.6 1567.0 1193.1 1569.7 1194.5 1572.3 1196.0 1574.9 1197.5 1577.5 1198.9 1580.1 1200.4 1582.7 1201.8 1585.4 1203.3 1588.0 1204.8 1590.6 1206.2 1593.2 1207.7 1595.9 1209.1 1598.5 1210.6 1601.1 1212.0 1603.7 1213.5 1606.4 1214.9 1609.0 1216.4 1611.6 1217.8 1614.3 1219.3 1616.9 1220.7 1619.5 1222.1 1622.2 1223.5 1624.8 1225.0 1627.4 1226.4 1630.1 1227.8 1632.7 1229.2 1635.4 1230.6 1638.0 1232.0 1640.7 1233.4 1643.4 1234.8 1646.0 1236.1 1648.7 1237.5 1651.3 1238.9 1654.0 1240.2 1656.7 1241.6 1659.4 1242.9 1662.0 1244.3 1664.7 1245.6 1667.4 1246.9 1670.1 1248.2 1672.8 1249.5 1675.5 1250.8 1678.2 1252.1 1680.9 1253.4 1683.6 1254.7 1686.3 1255.9 1689.0 1257.2 1691.8 1258.4 1694.5 1259.6 1697.2 1260.9 1699.9 1262.1 1702.7 1263.3 1705.4 1264.5 1708.2 1265.7 1710.9 1266.8 1713.7 1268.0 1716.5 1269.1 1719.2 1270.3 1722.0 1271.4 1724.8 1272.5 1727.6 1273.6 1730.4 1274.7 1733.2 1275.8 1736.0 1276.8 1738.8 1277.9 1741.6 1278.9 1744.4 1280.0 1747.2 1281.0 1750.0 1282.0 1752.9 1283.0 1755.7 1284.0 1758.5 1285.0 1761.4 1286.0 1764.2 1286.9 1767.1 1287.9 1769.9 1288.8 1772.8 1289.8 1775.6 1290.7 1778.5 1291.7 1781.3 1292.6 1784.2 1293.5 1787.1 1294.4 1790.0 1295.3 1792.8 1296.2 1795.7 1297.1 1798.6 1297.9 1801.5 1298.8 1804.4 1299.7 1807.2 1300.5 1810.1 1301.4 1813.0 1302.2 1815.9 1303.1 1818.8 1303.9 1821.7 1304.7 1824.6 1305.6 1827.5 1306.4 1830.4 1307.2 1833.3 1308.0 1836.2 1308.8 1839.1 1309.6 1842.0 1310.4 1844.9 1311.2 1847.8 1312.0 1850.7 1312.8 1853.6 1313.6 1856.5 1314.4 1859.5 1315.2 1862.4 1316.0 1865.3 1316.8 1868.2 1317.5 1871.1 1318.3 1874.0 1319.1 1876.9 1319.9 1879.8 1320.7 1882.7 1321.4 1885.6 1322.2 1888.5 1323.0 1891.4 1323.8 1894.3 1324.6 1897.2 1325.3 1900.1 1326.1 1903.0 1326.9 1905.9 1327.7 1908.8 1328.5 1911.7 1329.2 1914.6 1330.0 1917.5 1330.8 1920.4 1331.6 1923.3 1332.4 1926.1 1333.2 1929.0 1334.0 1931.9 1334.8 1934.8 1335.6 1937.6 1336.4 1940.5 1337.2 1943.4 1338.0 1946.2 1338.8 1949.1 1339.7 1952.0 1340.5 1954.8 1341.3 1957.7 1342.2 1960.5 1343.0" stroke="#4472C4"/>
</g>
<rect x="1329.3" y="188.7" width="394.4" height="488.3" fill="#fff" stroke="#262626" stroke-width="3"/>
<g fill="none" stroke-width="8.0" stroke-linecap="round">
<line x1="1378.5" y1="238.6" x2="1504" y2="238.6" stroke="#5B9BD5"/>
<line x1="1378.5" y1="335.9" x2="1504" y2="335.9" stroke="#ED7D31"/>
<line x1="1378.5" y1="433.2" x2="1504" y2="433.2" stroke="#A5A5A5"/>
<line x1="1378.5" y1="530.5" x2="1504" y2="530.5" stroke="#FFC000"/>
<line x1="1378.5" y1="627.8" x2="1504" y2="627.8" stroke="#4472C4"/>
</g>
<g font-size="67">
<text x="1517" y="259.1">200&#186;C</text>
<text x="1517" y="356.4">300&#186;C</text>
<text x="1517" y="453.7">400&#186;C</text>
<text x="1517" y="551.0">500&#186;C</text>
<text x="1517" y="648.3">600&#186;C</text>
</g>
<g font-size="80" text-anchor="middle">
<text x="130.5" y="1597">350</text>
<text x="742.5" y="1597">400</text>
<text x="1351" y="1597">450</text>
<text x="1961" y="1597">500</text>
</g>
<g font-size="90">
<text y="1719.5"><tspan x="736">Wavelength</tspan><tspan x="1188">(nm)</tspan></text>
<text transform="translate(100.5,0) rotate(-90)"><tspan x="-1400.4">Photoluminescence</tspan><tspan x="-668">intensity</tspan><tspan x="-334.8">(a.</tspan><tspan x="-220.4">u.)</tspan></text>
</g>
</svg>
</body></html>
